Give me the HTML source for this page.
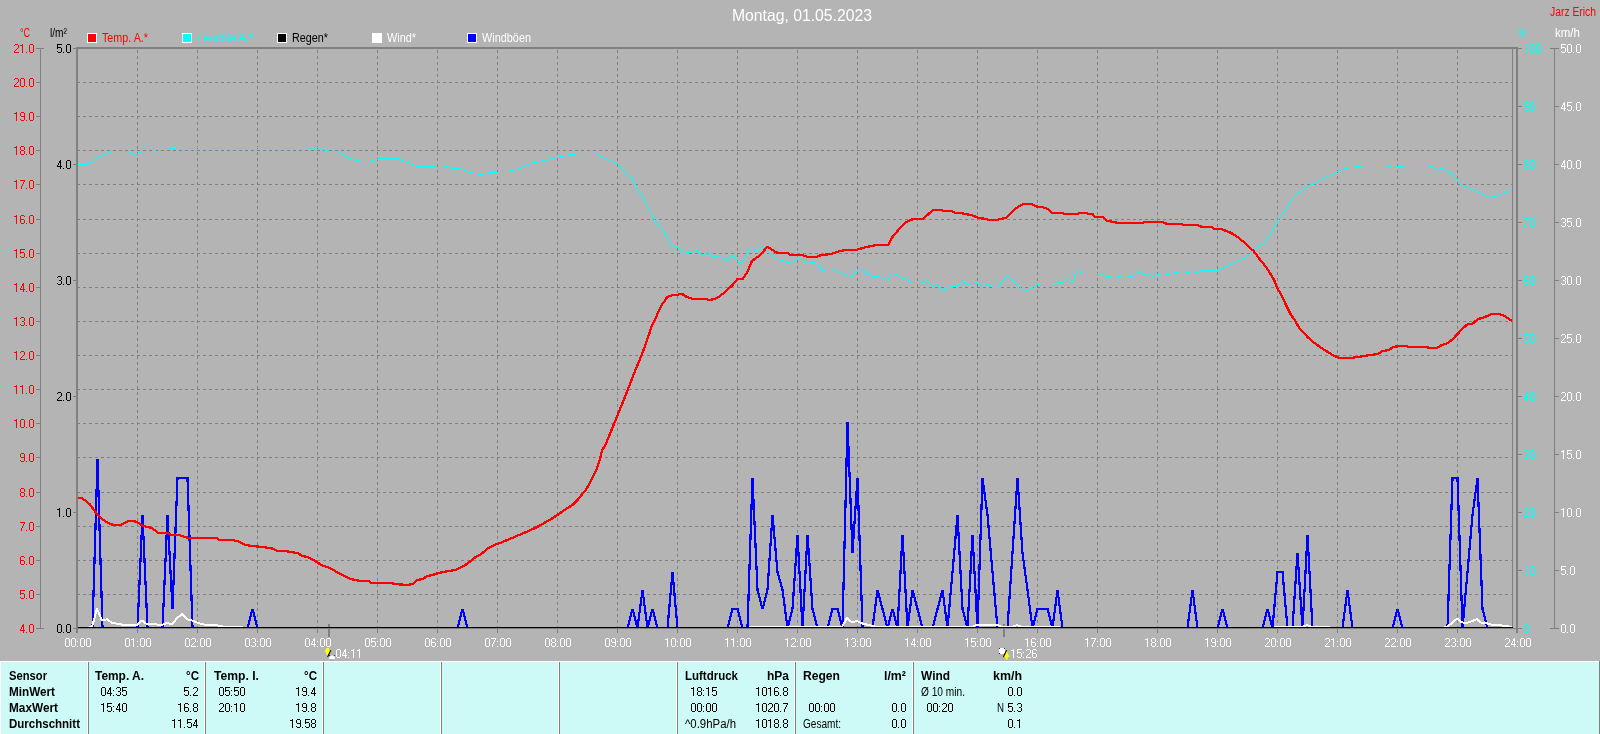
<!DOCTYPE html>
<html><head><meta charset="utf-8"><title>Montag, 01.05.2023</title>
<style>
html,body{margin:0;padding:0;background:#b4b4b4;overflow:hidden;}
svg{display:block;will-change:transform;}
text{font-family:"Liberation Sans", sans-serif;}
</style></head>
<body>
<svg width="1600" height="734" viewBox="0 0 1600 734">
<rect x="0" y="0" width="1600" height="734" fill="#b4b4b4"/>
<text x="732" y="21" fill="#ffffff" font-size="16.5" textLength="140" lengthAdjust="spacingAndGlyphs">Montag, 01.05.2023</text>
<text x="1550" y="16" fill="#ff0000" font-size="12" textLength="46" lengthAdjust="spacingAndGlyphs">Jarz Erich</text>
<rect x="87" y="33" width="10" height="10" fill="#ffffff"/>
<rect x="88" y="34" width="8" height="8" fill="#ff0000"/>
<text x="102" y="42" fill="#ff0000" font-size="12" textLength="46" lengthAdjust="spacingAndGlyphs">Temp. A.*</text>
<rect x="182" y="33" width="10" height="10" fill="#ffffff"/>
<rect x="183" y="34" width="8" height="8" fill="#00ffff"/>
<text x="197" y="42" fill="#00ffff" font-size="12" textLength="56" lengthAdjust="spacingAndGlyphs">Feuchte A.*</text>
<rect x="277" y="33" width="10" height="10" fill="#ffffff"/>
<rect x="278" y="34" width="8" height="8" fill="#000000"/>
<text x="292" y="42" fill="#000000" font-size="12" textLength="36" lengthAdjust="spacingAndGlyphs">Regen*</text>
<rect x="372" y="33" width="10" height="10" fill="#ffffff"/>
<rect x="373" y="34" width="8" height="8" fill="#ffffff"/>
<text x="387" y="42" fill="#ffffff" font-size="12" textLength="29" lengthAdjust="spacingAndGlyphs">Wind*</text>
<rect x="467" y="33" width="10" height="10" fill="#ffffff"/>
<rect x="468" y="34" width="8" height="8" fill="#0000ff"/>
<text x="482" y="42" fill="#ffffff" font-size="12" textLength="49" lengthAdjust="spacingAndGlyphs">Windböen</text>
<text x="20" y="37" fill="#ff0000" font-size="12" textLength="10" lengthAdjust="spacingAndGlyphs">°C</text>
<text x="50" y="37" fill="#000000" font-size="12" textLength="17" lengthAdjust="spacingAndGlyphs">l/m²</text>
<text x="1518" y="37" fill="#00ffff" font-size="12" textLength="8" lengthAdjust="spacingAndGlyphs">%</text>
<text x="1555" y="37" fill="#ffffff" font-size="12" textLength="25" lengthAdjust="spacingAndGlyphs">km/h</text>
<path d="M137.5 50V628 M197.5 50V628 M257.5 50V628 M317.5 50V628 M377.5 50V628 M437.5 50V628 M497.5 50V628 M557.5 50V628 M617.5 50V628 M677.5 50V628 M737.5 50V628 M797.5 50V628 M857.5 50V628 M917.5 50V628 M977.5 50V628 M1037.5 50V628 M1097.5 50V628 M1157.5 50V628 M1217.5 50V628 M1277.5 50V628 M1337.5 50V628 M1397.5 50V628 M1457.5 50V628 M77 82.5H1513 M77 116.5H1513 M77 150.5H1513 M77 184.5H1513 M77 219.5H1513 M77 253.5H1513 M77 287.5H1513 M77 321.5H1513 M77 355.5H1513 M77 389.5H1513 M77 423.5H1513 M77 457.5H1513 M77 492.5H1513 M77 526.5H1513 M77 560.5H1513 M77 594.5H1513" stroke="#808080" stroke-width="1" stroke-dasharray="3 3" fill="none" shape-rendering="crispEdges"/>
<rect x="40" y="48" width="1" height="581" fill="#808080"/>
<rect x="36" y="48" width="8" height="1" fill="#808080"/>
<rect x="36" y="82" width="4" height="1" fill="#808080"/>
<rect x="36" y="116" width="4" height="1" fill="#808080"/>
<rect x="36" y="150" width="4" height="1" fill="#808080"/>
<rect x="36" y="184" width="4" height="1" fill="#808080"/>
<rect x="36" y="219" width="4" height="1" fill="#808080"/>
<rect x="36" y="253" width="4" height="1" fill="#808080"/>
<rect x="36" y="287" width="4" height="1" fill="#808080"/>
<rect x="36" y="321" width="4" height="1" fill="#808080"/>
<rect x="36" y="355" width="4" height="1" fill="#808080"/>
<rect x="36" y="389" width="4" height="1" fill="#808080"/>
<rect x="36" y="423" width="4" height="1" fill="#808080"/>
<rect x="36" y="457" width="4" height="1" fill="#808080"/>
<rect x="36" y="492" width="4" height="1" fill="#808080"/>
<rect x="36" y="526" width="4" height="1" fill="#808080"/>
<rect x="36" y="560" width="4" height="1" fill="#808080"/>
<rect x="36" y="594" width="4" height="1" fill="#808080"/>
<rect x="36" y="628" width="8" height="1" fill="#808080"/>
<rect x="73" y="48" width="3" height="1" fill="#808080"/>
<rect x="73" y="164" width="3" height="1" fill="#808080"/>
<rect x="73" y="280" width="3" height="1" fill="#808080"/>
<rect x="73" y="396" width="3" height="1" fill="#808080"/>
<rect x="73" y="512" width="3" height="1" fill="#808080"/>
<rect x="73" y="628" width="3" height="1" fill="#808080"/>
<rect x="1554" y="48" width="1" height="581" fill="#808080"/>
<rect x="1518" y="48" width="4" height="1" fill="#808080"/>
<rect x="1550" y="48" width="9" height="1" fill="#808080"/>
<rect x="1518" y="106" width="4" height="1" fill="#808080"/>
<rect x="1555" y="106" width="4" height="1" fill="#808080"/>
<rect x="1518" y="164" width="4" height="1" fill="#808080"/>
<rect x="1555" y="164" width="4" height="1" fill="#808080"/>
<rect x="1518" y="222" width="4" height="1" fill="#808080"/>
<rect x="1555" y="222" width="4" height="1" fill="#808080"/>
<rect x="1518" y="280" width="4" height="1" fill="#808080"/>
<rect x="1555" y="280" width="4" height="1" fill="#808080"/>
<rect x="1518" y="338" width="4" height="1" fill="#808080"/>
<rect x="1555" y="338" width="4" height="1" fill="#808080"/>
<rect x="1518" y="396" width="4" height="1" fill="#808080"/>
<rect x="1555" y="396" width="4" height="1" fill="#808080"/>
<rect x="1518" y="454" width="4" height="1" fill="#808080"/>
<rect x="1555" y="454" width="4" height="1" fill="#808080"/>
<rect x="1518" y="512" width="4" height="1" fill="#808080"/>
<rect x="1555" y="512" width="4" height="1" fill="#808080"/>
<rect x="1518" y="570" width="4" height="1" fill="#808080"/>
<rect x="1555" y="570" width="4" height="1" fill="#808080"/>
<rect x="1518" y="628" width="4" height="1" fill="#808080"/>
<rect x="1550" y="628" width="9" height="1" fill="#808080"/>
<rect x="77" y="629" width="1" height="4" fill="#808080"/>
<rect x="137" y="629" width="1" height="4" fill="#808080"/>
<rect x="197" y="629" width="1" height="4" fill="#808080"/>
<rect x="257" y="629" width="1" height="4" fill="#808080"/>
<rect x="317" y="629" width="1" height="4" fill="#808080"/>
<rect x="377" y="629" width="1" height="4" fill="#808080"/>
<rect x="437" y="629" width="1" height="4" fill="#808080"/>
<rect x="497" y="629" width="1" height="4" fill="#808080"/>
<rect x="557" y="629" width="1" height="4" fill="#808080"/>
<rect x="617" y="629" width="1" height="4" fill="#808080"/>
<rect x="677" y="629" width="1" height="4" fill="#808080"/>
<rect x="737" y="629" width="1" height="4" fill="#808080"/>
<rect x="797" y="629" width="1" height="4" fill="#808080"/>
<rect x="857" y="629" width="1" height="4" fill="#808080"/>
<rect x="917" y="629" width="1" height="4" fill="#808080"/>
<rect x="977" y="629" width="1" height="4" fill="#808080"/>
<rect x="1037" y="629" width="1" height="4" fill="#808080"/>
<rect x="1097" y="629" width="1" height="4" fill="#808080"/>
<rect x="1157" y="629" width="1" height="4" fill="#808080"/>
<rect x="1217" y="629" width="1" height="4" fill="#808080"/>
<rect x="1277" y="629" width="1" height="4" fill="#808080"/>
<rect x="1337" y="629" width="1" height="4" fill="#808080"/>
<rect x="1397" y="629" width="1" height="4" fill="#808080"/>
<rect x="1457" y="629" width="1" height="4" fill="#808080"/>
<rect x="1517" y="629" width="1" height="4" fill="#808080"/>
<rect x="328" y="624" width="2" height="13" fill="#808080"/>
<rect x="1003" y="624" width="2" height="13" fill="#808080"/>
<polyline points="77.5,628 82.5,628 87.5,628 92.5,628 97.5,459 102.5,628 107.5,628 112.5,628 117.5,628 122.5,628 127.5,628 132.5,628 137.5,628 142.5,515 147.5,628 152.5,628 157.5,628 162.5,628 167.5,515 172.5,609 177.5,478 182.5,478 187.5,478 192.5,628 197.5,628 202.5,628 207.5,628 212.5,628 217.5,628 222.5,628 227.5,628 232.5,628 237.5,628 242.5,628 247.5,628 252.5,609 257.5,628 262.5,628 267.5,628 272.5,628 277.5,628 282.5,628 287.5,628 292.5,628 297.5,628 302.5,628 307.5,628 312.5,628 317.5,628 322.5,628 327.5,628 332.5,628 337.5,628 342.5,628 347.5,628 352.5,628 357.5,628 362.5,628 367.5,628 372.5,628 377.5,628 382.5,628 387.5,628 392.5,628 397.5,628 402.5,628 407.5,628 412.5,628 417.5,628 422.5,628 427.5,628 432.5,628 437.5,628 442.5,628 447.5,628 452.5,628 457.5,628 462.5,609 467.5,628 472.5,628 477.5,628 482.5,628 487.5,628 492.5,628 497.5,628 502.5,628 507.5,628 512.5,628 517.5,628 522.5,628 527.5,628 532.5,628 537.5,628 542.5,628 547.5,628 552.5,628 557.5,628 562.5,628 567.5,628 572.5,628 577.5,628 582.5,628 587.5,628 592.5,628 597.5,628 602.5,628 607.5,628 612.5,628 617.5,628 622.5,628 627.5,628 632.5,609 637.5,628 642.5,590 647.5,628 652.5,609 657.5,628 662.5,628 667.5,628 672.5,572 677.5,628 682.5,628 687.5,628 692.5,628 697.5,628 702.5,628 707.5,628 712.5,628 717.5,628 722.5,628 727.5,628 732.5,609 737.5,609 742.5,628 747.5,628 752.5,478 757.5,590 762.5,609 767.5,590 772.5,515 777.5,572 782.5,590 787.5,628 792.5,609 797.5,535 802.5,628 807.5,535 812.5,609 817.5,628 822.5,628 827.5,628 832.5,609 837.5,609 842.5,628 847.5,422 852.5,553 857.5,478 862.5,628 867.5,628 872.5,628 877.5,590 882.5,609 887.5,628 892.5,609 897.5,628 902.5,535 907.5,628 912.5,590 917.5,609 922.5,628 927.5,628 932.5,628 937.5,609 942.5,590 947.5,628 952.5,572 957.5,515 962.5,609 967.5,628 972.5,535 977.5,628 982.5,478 987.5,515 992.5,572 997.5,628 1002.5,628 1007.5,628 1012.5,553 1017.5,478 1022.5,553 1027.5,590 1032.5,628 1037.5,609 1042.5,609 1047.5,609 1052.5,628 1057.5,590 1062.5,628 1067.5,628 1072.5,628 1077.5,628 1082.5,628 1087.5,628 1092.5,628 1097.5,628 1102.5,628 1107.5,628 1112.5,628 1117.5,628 1122.5,628 1127.5,628 1132.5,628 1137.5,628 1142.5,628 1147.5,628 1152.5,628 1157.5,628 1162.5,628 1167.5,628 1172.5,628 1177.5,628 1182.5,628 1187.5,628 1192.5,590 1197.5,628 1202.5,628 1207.5,628 1212.5,628 1217.5,628 1222.5,609 1227.5,628 1232.5,628 1237.5,628 1242.5,628 1247.5,628 1252.5,628 1257.5,628 1262.5,628 1267.5,609 1272.5,628 1277.5,572 1282.5,572 1287.5,628 1292.5,628 1297.5,553 1302.5,628 1307.5,535 1312.5,628 1317.5,628 1322.5,628 1327.5,628 1332.5,628 1337.5,628 1342.5,628 1347.5,590 1352.5,628 1357.5,628 1362.5,628 1367.5,628 1372.5,628 1377.5,628 1382.5,628 1387.5,628 1392.5,628 1397.5,609 1402.5,628 1407.5,628 1412.5,628 1417.5,628 1422.5,628 1427.5,628 1432.5,628 1437.5,628 1442.5,628 1447.5,628 1452.5,478 1457.5,478 1462.5,628 1467.5,572 1472.5,515 1477.5,478 1482.5,609 1487.5,628 1492.5,628 1497.5,628 1502.5,628 1507.5,628 1512.5,628" fill="none" stroke="#0000ff" stroke-width="2.2" stroke-linejoin="miter" stroke-miterlimit="3" shape-rendering="crispEdges"/>
<polyline points="77,628 87,628 92,627 97,608.6 102,620.5 107,619.25 112,623 117,623.6 122,624.6 137,624.9 142,620.5 147,624.25 152,623.6 157,624.5 162,624.9 167,623 172,624.5 177,618 182,614.25 187,619.25 192,620.5 197,622.4 202,624.25 207,624.9 217,625.25 225,627 240,627 245,628 742,628 747,628 752,627 757,627 767,627 772,627 777,627 842,627 847,617.75 852,622.5 857,620.9 862,623.4 867,624.6 877,627 882,627 972,627 977,624.6 997,624.6 1002,627 1012,627 1017,625 1022,627 1057,627 1062,628 1272,628 1277,627 1302,627 1307,625 1312,627 1327,627 1332,628 1442,628 1447,627 1457,618.6 1462,622.4 1467,623 1477,619.25 1482,623.3 1487,623.3 1492,624.9 1500,625.2 1512,627" fill="none" stroke="#ffffff" stroke-width="2" stroke-linejoin="round" shape-rendering="crispEdges"/>
<rect x="77" y="627" width="1436" height="1" fill="#000000"/>
<polyline points="77.5,164.5 87.5,164.5 93.75,159.5 102.5,155.5 112.5,151.5 128.75,151.5 133.75,154.5 142.5,151.5 152.5,151.5 157.5,149.5 165,149.5 180,147.5 307.5,147.5 312.5,149.5 317.5,147.5 322.5,149.5 330,151.5 338.75,151.5 347.5,157.5 360,161.5 368.75,161.5 372.5,160.5 380,158.5 397.5,158.5 417.5,166.5 430,166.5 442.5,167.5 447.5,166.5 452.5,168.5 460,168.5 467.5,171.5 470,172.5 481,174.5 488.75,172.5 507.5,171.5 520,168.5 530,163.5 545,160.5 557.5,157.5 570,154.5 582.5,153.5 596,153.5 602.5,157.5 617.5,163.5 627.5,175.5 632.5,177.5 637.5,190.5 642.5,196.5 655,220.5 665,233.5 672.5,247.5 677.5,246.5 682.5,253.5 690,252.5 696.9,250.5 702.5,255.5 707.5,252.5 712.5,256.5 722.5,257.5 727.5,261.5 732.5,254.5 737.5,261.5 741.9,263.5 747.5,251.5 751.25,249.5 757.5,250.5 762.5,246.5 767.5,251.5 772.5,256.5 777.5,259.5 782.5,260.5 787.5,262.5 792.5,263.5 797.5,257.5 802.5,259.5 807.5,263.5 812.5,262.5 817.5,263.5 822.5,270.5 827.5,269.5 832.5,269.5 837.5,271.5 842.5,273.5 847.5,275.5 851.9,276.5 857.5,269.5 862.5,269.5 867.5,273.5 872.5,276.5 877.5,276.5 880,277.5 882.5,277.5 887.5,280.5 892.5,273.5 897.5,274.5 902.5,278.5 907.5,279.5 912.5,283.5 918.75,283.5 922.5,282.5 926.9,280.5 932.5,286.5 937.5,284.5 942.5,291.5 947.5,287.5 952.5,286.5 957.5,286.5 962.5,280.5 967.5,284.5 972.5,283.5 977.5,282.5 982.5,286.5 987.5,283.5 992.5,287.5 997.5,287.5 1002.5,281.5 1007.5,275.5 1012.5,280.5 1017.5,284.5 1022.5,289.5 1026.9,290.5 1032.5,287.5 1037.5,284.5 1042.5,285.5 1052.5,285.5 1057.5,282.5 1062.5,282.5 1067.5,277.5 1072.5,282.5 1077.5,270.5 1082.5,273.5 1097.5,273.5 1106.25,276.5 1115,275.5 1122.5,277.5 1132.5,276.5 1137.5,271.5 1143.75,274.5 1147.5,273.5 1152.5,276.5 1157.5,274.5 1162.5,275.5 1167.5,274.5 1176.25,272.5 1182.5,271.5 1187.5,272.5 1192.5,271.5 1197.5,272.5 1202.5,270.5 1217.5,270.5 1223.75,267.5 1231.25,264.5 1237.5,260.5 1243.75,258.5 1247.5,256.5 1252.5,251.5 1258.75,246.5 1263.75,243.5 1268.75,236.5 1272.5,231.5 1278.75,218.5 1285,210.5 1292.5,198.5 1300,191.5 1307.5,186.5 1315,183.5 1322.5,178.5 1330,175.5 1337.5,171.5 1345,168.5 1357.5,166.5 1367.5,165.5 1385,165.5 1392.5,167.5 1400,166.5 1407.5,165.5 1425,165.5 1432.5,166.5 1437.5,169.5 1442.5,168.5 1450,172.5 1457.5,180.5 1462.5,185.5 1470,188.5 1477.5,191.5 1485,195.5 1490,197.5 1495,196.5 1502.5,193.5 1511.5,190.5" fill="none" stroke="#00ffff" stroke-width="1" stroke-linejoin="round" shape-rendering="crispEdges"/>
<polyline points="77,498 82,498 85.75,501 89.5,504 93.25,509 97,514 102,519 108.25,523 113.25,525 120.75,525 124.5,523 128.25,521 133.9,521 138.25,523 143.25,526 152,528 158.25,533 167,533 172,535 179.5,535 184.5,537 189.5,538 217,538 219.5,540 232,540 237,541 245.75,545 252,546 262,547 270,548 273.75,549 277.5,551 286.25,551 290,552 297.5,553 302.5,556 307.5,557 313.75,560 321.25,565 330,568 335,571 342.5,575 350,579 356.25,580 360,581 368.75,581 371.25,583 391.25,583 395,584 407.5,585 412.5,584 417.5,580 422.5,579 427.5,576 432.5,575 438.75,573 443.75,572 448.75,571 455,570 460,568 465,565 467.1,564 474.2,558 481.3,554 488.3,548 494.5,545 502.5,542 509.6,539 516.7,536 523.8,533 530.9,530 537.1,527 544.1,523 551.2,519 557.4,515 564.5,510 572.5,505 577.5,500 585.6,490 590,483 596.25,470 600,459 601.9,451 606.25,443 609.5,435 616.8,417 621.7,405 627.7,390 630,384 633,376 636.7,367 639.7,360 642,354 644.6,347 646.9,340 649.5,333 651.7,326 654,322 656.2,317 658.1,312 660.4,308 662.6,303 664.9,301 667.1,297 669.7,296 673.5,295 677.2,295 680.2,294 682.5,294 684.7,296 690,298 692.5,299 706.25,299 708.75,300 715,299 720,296 726.25,291 732.5,285 737.5,279 742.5,279 746.9,273 751.9,261 756.25,258 761.25,254 766.9,247 770,248 775,252 778.75,253 787.5,253 790,255 802.5,255 807.5,257 816.25,257 821.25,255 831.25,254 840,251 846.25,250 856.25,250 862.5,248 871.25,246 877.5,245 888,245 892.5,237 900,228 905,223 910,220 913.75,219 923.1,219 926.25,216 933.1,210 941.9,210 943.75,211 951.9,211 955,213 961.25,213 965,214 971.25,215 978.75,218 986.25,219 988.75,220 996.9,220 1000,219 1006.25,218 1008.75,215 1015,209 1021.25,205 1023.75,204 1031.9,204 1035,206 1038.75,207 1042.5,207 1047.5,209 1052.5,213 1062.5,213 1063.75,214 1077.5,214 1078.75,213 1086.9,213 1088.75,214 1092.5,214 1095,217 1102.5,217 1107.5,221 1113.75,222 1118.75,223 1142.5,223 1143.75,222 1161.9,222 1167.5,224 1181.9,224 1183.75,225 1196.9,225 1202.5,227 1211.9,227 1213.75,229 1221.25,229 1226.25,231 1231.25,233 1237.5,237 1243.75,242 1248.75,247 1253.75,251 1258.75,258 1263.75,264 1268.75,271 1274.1,280 1276.7,287 1279,291 1282.4,297 1285,303 1288,309 1291,315 1294,319 1296.2,323 1300,329 1305.2,334 1307.5,337 1314.5,343 1321.6,348 1327.8,352 1332.5,355 1339.5,358 1351.25,358 1357.5,357 1363.75,356 1370,355 1377.8,354 1382.5,351 1388.75,350 1393.4,347 1399.7,346 1405.9,346 1409,347 1426.25,347 1429.4,348 1436.4,348 1441.9,345 1448.1,343 1452.8,339 1457.5,334 1462.2,329 1467.7,324 1472.3,324 1477.8,319 1482.5,318 1487.2,316 1491.9,314 1498.1,314 1502.8,315 1507.5,318 1512.2,321" fill="none" stroke="#ff0000" stroke-width="2.3" stroke-linejoin="round" shape-rendering="crispEdges"/>
<rect x="76" y="47" width="1442" height="2" fill="#808080"/>
<rect x="76" y="47" width="2" height="586" fill="#808080"/>
<rect x="1516" y="47" width="2" height="586" fill="#808080"/>
<rect x="77" y="628" width="1441" height="1" fill="#808080"/>
<rect x="1512" y="49" width="1" height="578" fill="#808080"/>
<path d="M329 659a3 3.6 0 0 1 6 0z" fill="#ffffff"/>
<rect x="329" y="655" width="1" height="1" fill="#2828a0"/><rect x="334" y="655" width="1" height="1" fill="#2828a0"/>
<path d="M326 648h3v2h1.6l-3.1 6.6l-3.1 -6.6h1.6z" fill="#ffff00"/>
<path d="M330.8 650.3L327.6 657" stroke="#000" stroke-width="1.1" fill="none"/>
<rect x="999" y="648" width="6" height="6" rx="1.6" fill="#ffffff"/>
<rect x="999" y="648" width="1" height="1" fill="#2828a0"/><rect x="1004" y="648" width="1" height="1" fill="#2828a0"/><rect x="999" y="653" width="1" height="1" fill="#2828a0"/>
<path d="M1006.5 650L1009.6 657H1007.6V659.5H1005.5V657H1003.4Z" fill="#ffff00"/>
<path d="M1006.6 650.2L1003.4 657" stroke="#000" stroke-width="1.1" fill="none"/>
<rect x="0" y="661" width="1600" height="73" fill="#cdfaf7"/>
<rect x="0" y="661" width="1599" height="1" fill="#ffffff"/>
<rect x="0" y="661" width="1" height="73" fill="#ffffff"/>
<rect x="1599" y="661" width="1" height="73" fill="#808080"/>
<rect x="87" y="662" width="1" height="72" fill="#ffffff"/>
<rect x="88" y="662" width="1" height="72" fill="#808080"/>
<rect x="204" y="662" width="1" height="72" fill="#ffffff"/>
<rect x="205" y="662" width="1" height="72" fill="#808080"/>
<rect x="322" y="662" width="1" height="72" fill="#ffffff"/>
<rect x="323" y="662" width="1" height="72" fill="#808080"/>
<rect x="440" y="662" width="1" height="72" fill="#ffffff"/>
<rect x="441" y="662" width="1" height="72" fill="#808080"/>
<rect x="558" y="662" width="1" height="72" fill="#ffffff"/>
<rect x="559" y="662" width="1" height="72" fill="#808080"/>
<rect x="676" y="662" width="1" height="72" fill="#ffffff"/>
<rect x="677" y="662" width="1" height="72" fill="#808080"/>
<rect x="794" y="662" width="1" height="72" fill="#ffffff"/>
<rect x="795" y="662" width="1" height="72" fill="#808080"/>
<rect x="912" y="662" width="1" height="72" fill="#ffffff"/>
<rect x="913" y="662" width="1" height="72" fill="#808080"/>
<text x="9" y="680" fill="#000000" font-size="12" textLength="38" lengthAdjust="spacingAndGlyphs" font-weight="bold">Sensor</text>
<text x="9" y="696" fill="#000000" font-size="12" textLength="46" lengthAdjust="spacingAndGlyphs" font-weight="bold">MinWert</text>
<text x="9" y="712" fill="#000000" font-size="12" textLength="49" lengthAdjust="spacingAndGlyphs" font-weight="bold">MaxWert</text>
<text x="9" y="728" fill="#000000" font-size="12" textLength="71" lengthAdjust="spacingAndGlyphs" font-weight="bold">Durchschnitt</text>
<text x="95" y="680" fill="#000000" font-size="12" textLength="49" lengthAdjust="spacingAndGlyphs" font-weight="bold">Temp. A.</text>
<text x="186" y="680" fill="#000000" font-size="12" textLength="13" lengthAdjust="spacingAndGlyphs" font-weight="bold">°C</text>
<text x="214" y="680" fill="#000000" font-size="12" textLength="45" lengthAdjust="spacingAndGlyphs" font-weight="bold">Temp. I.</text>
<text x="304" y="680" fill="#000000" font-size="12" textLength="13" lengthAdjust="spacingAndGlyphs" font-weight="bold">°C</text>
<text x="685" y="680" fill="#000000" font-size="12" textLength="53" lengthAdjust="spacingAndGlyphs" font-weight="bold">Luftdruck</text>
<text x="767" y="680" fill="#000000" font-size="12" textLength="22" lengthAdjust="spacingAndGlyphs" font-weight="bold">hPa</text>
<text x="685" y="728" fill="#000000" font-size="12" textLength="51" lengthAdjust="spacingAndGlyphs">^0.9hPa/h</text>
<text x="803" y="680" fill="#000000" font-size="12" textLength="37" lengthAdjust="spacingAndGlyphs" font-weight="bold">Regen</text>
<text x="884" y="680" fill="#000000" font-size="12" textLength="22" lengthAdjust="spacingAndGlyphs" font-weight="bold">l/m²</text>
<text x="803" y="728" fill="#000000" font-size="12" textLength="38" lengthAdjust="spacingAndGlyphs">Gesamt:</text>
<text x="921" y="680" fill="#000000" font-size="12" textLength="29" lengthAdjust="spacingAndGlyphs" font-weight="bold">Wind</text>
<text x="993" y="680" fill="#000000" font-size="12" textLength="29" lengthAdjust="spacingAndGlyphs" font-weight="bold">km/h</text>
<text x="921" y="696" fill="#000000" font-size="12" textLength="44" lengthAdjust="spacingAndGlyphs">Ø 10 min.</text>
<text x="997" y="712" fill="#000000" font-size="12" textLength="7" lengthAdjust="spacingAndGlyphs">N</text>
<path d="M15 44h3v1h-3zM14 45h1v1h-1zM18 45h1v1h-1zM18 46h1v1h-1zM18 47h1v1h-1zM17 48h1v1h-1zM16 49h1v1h-1zM15 50h1v1h-1zM14 51h1v1h-1zM14 52h5v1h-5zM22 44h1v1h-1zM20 45h3v1h-3zM22 46h1v1h-1zM22 47h1v1h-1zM22 48h1v1h-1zM22 49h1v1h-1zM22 50h1v1h-1zM22 51h1v1h-1zM22 52h1v1h-1zM26 52h1v1h-1zM30 44h3v1h-3zM29 45h1v1h-1zM33 45h1v1h-1zM29 46h1v1h-1zM33 46h1v1h-1zM29 47h1v1h-1zM33 47h1v1h-1zM29 48h1v1h-1zM33 48h1v1h-1zM29 49h1v1h-1zM33 49h1v1h-1zM29 50h1v1h-1zM33 50h1v1h-1zM29 51h1v1h-1zM33 51h1v1h-1zM30 52h3v1h-3zM15 78h3v1h-3zM14 79h1v1h-1zM18 79h1v1h-1zM18 80h1v1h-1zM18 81h1v1h-1zM17 82h1v1h-1zM16 83h1v1h-1zM15 84h1v1h-1zM14 85h1v1h-1zM14 86h5v1h-5zM21 78h3v1h-3zM20 79h1v1h-1zM24 79h1v1h-1zM20 80h1v1h-1zM24 80h1v1h-1zM20 81h1v1h-1zM24 81h1v1h-1zM20 82h1v1h-1zM24 82h1v1h-1zM20 83h1v1h-1zM24 83h1v1h-1zM20 84h1v1h-1zM24 84h1v1h-1zM20 85h1v1h-1zM24 85h1v1h-1zM21 86h3v1h-3zM26 86h1v1h-1zM30 78h3v1h-3zM29 79h1v1h-1zM33 79h1v1h-1zM29 80h1v1h-1zM33 80h1v1h-1zM29 81h1v1h-1zM33 81h1v1h-1zM29 82h1v1h-1zM33 82h1v1h-1zM29 83h1v1h-1zM33 83h1v1h-1zM29 84h1v1h-1zM33 84h1v1h-1zM29 85h1v1h-1zM33 85h1v1h-1zM30 86h3v1h-3zM16 112h1v1h-1zM14 113h3v1h-3zM16 114h1v1h-1zM16 115h1v1h-1zM16 116h1v1h-1zM16 117h1v1h-1zM16 118h1v1h-1zM16 119h1v1h-1zM16 120h1v1h-1zM21 112h3v1h-3zM20 113h1v1h-1zM24 113h1v1h-1zM20 114h1v1h-1zM24 114h1v1h-1zM20 115h1v1h-1zM24 115h1v1h-1zM21 116h4v1h-4zM24 117h1v1h-1zM24 118h1v1h-1zM20 119h1v1h-1zM24 119h1v1h-1zM21 120h3v1h-3zM26 120h1v1h-1zM30 112h3v1h-3zM29 113h1v1h-1zM33 113h1v1h-1zM29 114h1v1h-1zM33 114h1v1h-1zM29 115h1v1h-1zM33 115h1v1h-1zM29 116h1v1h-1zM33 116h1v1h-1zM29 117h1v1h-1zM33 117h1v1h-1zM29 118h1v1h-1zM33 118h1v1h-1zM29 119h1v1h-1zM33 119h1v1h-1zM30 120h3v1h-3zM16 146h1v1h-1zM14 147h3v1h-3zM16 148h1v1h-1zM16 149h1v1h-1zM16 150h1v1h-1zM16 151h1v1h-1zM16 152h1v1h-1zM16 153h1v1h-1zM16 154h1v1h-1zM21 146h3v1h-3zM20 147h1v1h-1zM24 147h1v1h-1zM20 148h1v1h-1zM24 148h1v1h-1zM20 149h1v1h-1zM24 149h1v1h-1zM21 150h3v1h-3zM20 151h1v1h-1zM24 151h1v1h-1zM20 152h1v1h-1zM24 152h1v1h-1zM20 153h1v1h-1zM24 153h1v1h-1zM21 154h3v1h-3zM26 154h1v1h-1zM30 146h3v1h-3zM29 147h1v1h-1zM33 147h1v1h-1zM29 148h1v1h-1zM33 148h1v1h-1zM29 149h1v1h-1zM33 149h1v1h-1zM29 150h1v1h-1zM33 150h1v1h-1zM29 151h1v1h-1zM33 151h1v1h-1zM29 152h1v1h-1zM33 152h1v1h-1zM29 153h1v1h-1zM33 153h1v1h-1zM30 154h3v1h-3zM16 180h1v1h-1zM14 181h3v1h-3zM16 182h1v1h-1zM16 183h1v1h-1zM16 184h1v1h-1zM16 185h1v1h-1zM16 186h1v1h-1zM16 187h1v1h-1zM16 188h1v1h-1zM20 180h5v1h-5zM24 181h1v1h-1zM23 182h1v1h-1zM23 183h1v1h-1zM22 184h1v1h-1zM22 185h1v1h-1zM21 186h1v1h-1zM21 187h1v1h-1zM21 188h1v1h-1zM26 188h1v1h-1zM30 180h3v1h-3zM29 181h1v1h-1zM33 181h1v1h-1zM29 182h1v1h-1zM33 182h1v1h-1zM29 183h1v1h-1zM33 183h1v1h-1zM29 184h1v1h-1zM33 184h1v1h-1zM29 185h1v1h-1zM33 185h1v1h-1zM29 186h1v1h-1zM33 186h1v1h-1zM29 187h1v1h-1zM33 187h1v1h-1zM30 188h3v1h-3zM16 215h1v1h-1zM14 216h3v1h-3zM16 217h1v1h-1zM16 218h1v1h-1zM16 219h1v1h-1zM16 220h1v1h-1zM16 221h1v1h-1zM16 222h1v1h-1zM16 223h1v1h-1zM21 215h3v1h-3zM20 216h1v1h-1zM24 216h1v1h-1zM20 217h1v1h-1zM20 218h1v1h-1zM20 219h4v1h-4zM20 220h1v1h-1zM24 220h1v1h-1zM20 221h1v1h-1zM24 221h1v1h-1zM20 222h1v1h-1zM24 222h1v1h-1zM21 223h3v1h-3zM26 223h1v1h-1zM30 215h3v1h-3zM29 216h1v1h-1zM33 216h1v1h-1zM29 217h1v1h-1zM33 217h1v1h-1zM29 218h1v1h-1zM33 218h1v1h-1zM29 219h1v1h-1zM33 219h1v1h-1zM29 220h1v1h-1zM33 220h1v1h-1zM29 221h1v1h-1zM33 221h1v1h-1zM29 222h1v1h-1zM33 222h1v1h-1zM30 223h3v1h-3zM16 249h1v1h-1zM14 250h3v1h-3zM16 251h1v1h-1zM16 252h1v1h-1zM16 253h1v1h-1zM16 254h1v1h-1zM16 255h1v1h-1zM16 256h1v1h-1zM16 257h1v1h-1zM20 249h5v1h-5zM20 250h1v1h-1zM20 251h1v1h-1zM20 252h4v1h-4zM20 253h1v1h-1zM24 253h1v1h-1zM24 254h1v1h-1zM24 255h1v1h-1zM20 256h1v1h-1zM24 256h1v1h-1zM21 257h3v1h-3zM26 257h1v1h-1zM30 249h3v1h-3zM29 250h1v1h-1zM33 250h1v1h-1zM29 251h1v1h-1zM33 251h1v1h-1zM29 252h1v1h-1zM33 252h1v1h-1zM29 253h1v1h-1zM33 253h1v1h-1zM29 254h1v1h-1zM33 254h1v1h-1zM29 255h1v1h-1zM33 255h1v1h-1zM29 256h1v1h-1zM33 256h1v1h-1zM30 257h3v1h-3zM16 283h1v1h-1zM14 284h3v1h-3zM16 285h1v1h-1zM16 286h1v1h-1zM16 287h1v1h-1zM16 288h1v1h-1zM16 289h1v1h-1zM16 290h1v1h-1zM16 291h1v1h-1zM23 283h1v1h-1zM22 284h2v1h-2zM22 285h2v1h-2zM21 286h1v1h-1zM23 286h1v1h-1zM21 287h1v1h-1zM23 287h1v1h-1zM20 288h1v1h-1zM23 288h1v1h-1zM20 289h5v1h-5zM23 290h1v1h-1zM23 291h1v1h-1zM26 291h1v1h-1zM30 283h3v1h-3zM29 284h1v1h-1zM33 284h1v1h-1zM29 285h1v1h-1zM33 285h1v1h-1zM29 286h1v1h-1zM33 286h1v1h-1zM29 287h1v1h-1zM33 287h1v1h-1zM29 288h1v1h-1zM33 288h1v1h-1zM29 289h1v1h-1zM33 289h1v1h-1zM29 290h1v1h-1zM33 290h1v1h-1zM30 291h3v1h-3zM16 317h1v1h-1zM14 318h3v1h-3zM16 319h1v1h-1zM16 320h1v1h-1zM16 321h1v1h-1zM16 322h1v1h-1zM16 323h1v1h-1zM16 324h1v1h-1zM16 325h1v1h-1zM21 317h3v1h-3zM20 318h1v1h-1zM24 318h1v1h-1zM24 319h1v1h-1zM24 320h1v1h-1zM22 321h2v1h-2zM24 322h1v1h-1zM24 323h1v1h-1zM20 324h1v1h-1zM24 324h1v1h-1zM21 325h3v1h-3zM26 325h1v1h-1zM30 317h3v1h-3zM29 318h1v1h-1zM33 318h1v1h-1zM29 319h1v1h-1zM33 319h1v1h-1zM29 320h1v1h-1zM33 320h1v1h-1zM29 321h1v1h-1zM33 321h1v1h-1zM29 322h1v1h-1zM33 322h1v1h-1zM29 323h1v1h-1zM33 323h1v1h-1zM29 324h1v1h-1zM33 324h1v1h-1zM30 325h3v1h-3zM16 351h1v1h-1zM14 352h3v1h-3zM16 353h1v1h-1zM16 354h1v1h-1zM16 355h1v1h-1zM16 356h1v1h-1zM16 357h1v1h-1zM16 358h1v1h-1zM16 359h1v1h-1zM21 351h3v1h-3zM20 352h1v1h-1zM24 352h1v1h-1zM24 353h1v1h-1zM24 354h1v1h-1zM23 355h1v1h-1zM22 356h1v1h-1zM21 357h1v1h-1zM20 358h1v1h-1zM20 359h5v1h-5zM26 359h1v1h-1zM30 351h3v1h-3zM29 352h1v1h-1zM33 352h1v1h-1zM29 353h1v1h-1zM33 353h1v1h-1zM29 354h1v1h-1zM33 354h1v1h-1zM29 355h1v1h-1zM33 355h1v1h-1zM29 356h1v1h-1zM33 356h1v1h-1zM29 357h1v1h-1zM33 357h1v1h-1zM29 358h1v1h-1zM33 358h1v1h-1zM30 359h3v1h-3zM16 385h1v1h-1zM14 386h3v1h-3zM16 387h1v1h-1zM16 388h1v1h-1zM16 389h1v1h-1zM16 390h1v1h-1zM16 391h1v1h-1zM16 392h1v1h-1zM16 393h1v1h-1zM22 385h1v1h-1zM20 386h3v1h-3zM22 387h1v1h-1zM22 388h1v1h-1zM22 389h1v1h-1zM22 390h1v1h-1zM22 391h1v1h-1zM22 392h1v1h-1zM22 393h1v1h-1zM26 393h1v1h-1zM30 385h3v1h-3zM29 386h1v1h-1zM33 386h1v1h-1zM29 387h1v1h-1zM33 387h1v1h-1zM29 388h1v1h-1zM33 388h1v1h-1zM29 389h1v1h-1zM33 389h1v1h-1zM29 390h1v1h-1zM33 390h1v1h-1zM29 391h1v1h-1zM33 391h1v1h-1zM29 392h1v1h-1zM33 392h1v1h-1zM30 393h3v1h-3zM16 419h1v1h-1zM14 420h3v1h-3zM16 421h1v1h-1zM16 422h1v1h-1zM16 423h1v1h-1zM16 424h1v1h-1zM16 425h1v1h-1zM16 426h1v1h-1zM16 427h1v1h-1zM21 419h3v1h-3zM20 420h1v1h-1zM24 420h1v1h-1zM20 421h1v1h-1zM24 421h1v1h-1zM20 422h1v1h-1zM24 422h1v1h-1zM20 423h1v1h-1zM24 423h1v1h-1zM20 424h1v1h-1zM24 424h1v1h-1zM20 425h1v1h-1zM24 425h1v1h-1zM20 426h1v1h-1zM24 426h1v1h-1zM21 427h3v1h-3zM26 427h1v1h-1zM30 419h3v1h-3zM29 420h1v1h-1zM33 420h1v1h-1zM29 421h1v1h-1zM33 421h1v1h-1zM29 422h1v1h-1zM33 422h1v1h-1zM29 423h1v1h-1zM33 423h1v1h-1zM29 424h1v1h-1zM33 424h1v1h-1zM29 425h1v1h-1zM33 425h1v1h-1zM29 426h1v1h-1zM33 426h1v1h-1zM30 427h3v1h-3zM21 453h3v1h-3zM20 454h1v1h-1zM24 454h1v1h-1zM20 455h1v1h-1zM24 455h1v1h-1zM20 456h1v1h-1zM24 456h1v1h-1zM21 457h4v1h-4zM24 458h1v1h-1zM24 459h1v1h-1zM20 460h1v1h-1zM24 460h1v1h-1zM21 461h3v1h-3zM26 461h1v1h-1zM30 453h3v1h-3zM29 454h1v1h-1zM33 454h1v1h-1zM29 455h1v1h-1zM33 455h1v1h-1zM29 456h1v1h-1zM33 456h1v1h-1zM29 457h1v1h-1zM33 457h1v1h-1zM29 458h1v1h-1zM33 458h1v1h-1zM29 459h1v1h-1zM33 459h1v1h-1zM29 460h1v1h-1zM33 460h1v1h-1zM30 461h3v1h-3zM21 488h3v1h-3zM20 489h1v1h-1zM24 489h1v1h-1zM20 490h1v1h-1zM24 490h1v1h-1zM20 491h1v1h-1zM24 491h1v1h-1zM21 492h3v1h-3zM20 493h1v1h-1zM24 493h1v1h-1zM20 494h1v1h-1zM24 494h1v1h-1zM20 495h1v1h-1zM24 495h1v1h-1zM21 496h3v1h-3zM26 496h1v1h-1zM30 488h3v1h-3zM29 489h1v1h-1zM33 489h1v1h-1zM29 490h1v1h-1zM33 490h1v1h-1zM29 491h1v1h-1zM33 491h1v1h-1zM29 492h1v1h-1zM33 492h1v1h-1zM29 493h1v1h-1zM33 493h1v1h-1zM29 494h1v1h-1zM33 494h1v1h-1zM29 495h1v1h-1zM33 495h1v1h-1zM30 496h3v1h-3zM20 522h5v1h-5zM24 523h1v1h-1zM23 524h1v1h-1zM23 525h1v1h-1zM22 526h1v1h-1zM22 527h1v1h-1zM21 528h1v1h-1zM21 529h1v1h-1zM21 530h1v1h-1zM26 530h1v1h-1zM30 522h3v1h-3zM29 523h1v1h-1zM33 523h1v1h-1zM29 524h1v1h-1zM33 524h1v1h-1zM29 525h1v1h-1zM33 525h1v1h-1zM29 526h1v1h-1zM33 526h1v1h-1zM29 527h1v1h-1zM33 527h1v1h-1zM29 528h1v1h-1zM33 528h1v1h-1zM29 529h1v1h-1zM33 529h1v1h-1zM30 530h3v1h-3zM21 556h3v1h-3zM20 557h1v1h-1zM24 557h1v1h-1zM20 558h1v1h-1zM20 559h1v1h-1zM20 560h4v1h-4zM20 561h1v1h-1zM24 561h1v1h-1zM20 562h1v1h-1zM24 562h1v1h-1zM20 563h1v1h-1zM24 563h1v1h-1zM21 564h3v1h-3zM26 564h1v1h-1zM30 556h3v1h-3zM29 557h1v1h-1zM33 557h1v1h-1zM29 558h1v1h-1zM33 558h1v1h-1zM29 559h1v1h-1zM33 559h1v1h-1zM29 560h1v1h-1zM33 560h1v1h-1zM29 561h1v1h-1zM33 561h1v1h-1zM29 562h1v1h-1zM33 562h1v1h-1zM29 563h1v1h-1zM33 563h1v1h-1zM30 564h3v1h-3zM20 590h5v1h-5zM20 591h1v1h-1zM20 592h1v1h-1zM20 593h4v1h-4zM20 594h1v1h-1zM24 594h1v1h-1zM24 595h1v1h-1zM24 596h1v1h-1zM20 597h1v1h-1zM24 597h1v1h-1zM21 598h3v1h-3zM26 598h1v1h-1zM30 590h3v1h-3zM29 591h1v1h-1zM33 591h1v1h-1zM29 592h1v1h-1zM33 592h1v1h-1zM29 593h1v1h-1zM33 593h1v1h-1zM29 594h1v1h-1zM33 594h1v1h-1zM29 595h1v1h-1zM33 595h1v1h-1zM29 596h1v1h-1zM33 596h1v1h-1zM29 597h1v1h-1zM33 597h1v1h-1zM30 598h3v1h-3zM23 624h1v1h-1zM22 625h2v1h-2zM22 626h2v1h-2zM21 627h1v1h-1zM23 627h1v1h-1zM21 628h1v1h-1zM23 628h1v1h-1zM20 629h1v1h-1zM23 629h1v1h-1zM20 630h5v1h-5zM23 631h1v1h-1zM23 632h1v1h-1zM26 632h1v1h-1zM30 624h3v1h-3zM29 625h1v1h-1zM33 625h1v1h-1zM29 626h1v1h-1zM33 626h1v1h-1zM29 627h1v1h-1zM33 627h1v1h-1zM29 628h1v1h-1zM33 628h1v1h-1zM29 629h1v1h-1zM33 629h1v1h-1zM29 630h1v1h-1zM33 630h1v1h-1zM29 631h1v1h-1zM33 631h1v1h-1zM30 632h3v1h-3z" fill="#ff0000" shape-rendering="crispEdges"/>
<path d="M57 44h5v1h-5zM57 45h1v1h-1zM57 46h1v1h-1zM57 47h4v1h-4zM57 48h1v1h-1zM61 48h1v1h-1zM61 49h1v1h-1zM61 50h1v1h-1zM57 51h1v1h-1zM61 51h1v1h-1zM58 52h3v1h-3zM63 52h1v1h-1zM67 44h3v1h-3zM66 45h1v1h-1zM70 45h1v1h-1zM66 46h1v1h-1zM70 46h1v1h-1zM66 47h1v1h-1zM70 47h1v1h-1zM66 48h1v1h-1zM70 48h1v1h-1zM66 49h1v1h-1zM70 49h1v1h-1zM66 50h1v1h-1zM70 50h1v1h-1zM66 51h1v1h-1zM70 51h1v1h-1zM67 52h3v1h-3zM60 160h1v1h-1zM59 161h2v1h-2zM59 162h2v1h-2zM58 163h1v1h-1zM60 163h1v1h-1zM58 164h1v1h-1zM60 164h1v1h-1zM57 165h1v1h-1zM60 165h1v1h-1zM57 166h5v1h-5zM60 167h1v1h-1zM60 168h1v1h-1zM63 168h1v1h-1zM67 160h3v1h-3zM66 161h1v1h-1zM70 161h1v1h-1zM66 162h1v1h-1zM70 162h1v1h-1zM66 163h1v1h-1zM70 163h1v1h-1zM66 164h1v1h-1zM70 164h1v1h-1zM66 165h1v1h-1zM70 165h1v1h-1zM66 166h1v1h-1zM70 166h1v1h-1zM66 167h1v1h-1zM70 167h1v1h-1zM67 168h3v1h-3zM58 276h3v1h-3zM57 277h1v1h-1zM61 277h1v1h-1zM61 278h1v1h-1zM61 279h1v1h-1zM59 280h2v1h-2zM61 281h1v1h-1zM61 282h1v1h-1zM57 283h1v1h-1zM61 283h1v1h-1zM58 284h3v1h-3zM63 284h1v1h-1zM67 276h3v1h-3zM66 277h1v1h-1zM70 277h1v1h-1zM66 278h1v1h-1zM70 278h1v1h-1zM66 279h1v1h-1zM70 279h1v1h-1zM66 280h1v1h-1zM70 280h1v1h-1zM66 281h1v1h-1zM70 281h1v1h-1zM66 282h1v1h-1zM70 282h1v1h-1zM66 283h1v1h-1zM70 283h1v1h-1zM67 284h3v1h-3zM58 392h3v1h-3zM57 393h1v1h-1zM61 393h1v1h-1zM61 394h1v1h-1zM61 395h1v1h-1zM60 396h1v1h-1zM59 397h1v1h-1zM58 398h1v1h-1zM57 399h1v1h-1zM57 400h5v1h-5zM63 400h1v1h-1zM67 392h3v1h-3zM66 393h1v1h-1zM70 393h1v1h-1zM66 394h1v1h-1zM70 394h1v1h-1zM66 395h1v1h-1zM70 395h1v1h-1zM66 396h1v1h-1zM70 396h1v1h-1zM66 397h1v1h-1zM70 397h1v1h-1zM66 398h1v1h-1zM70 398h1v1h-1zM66 399h1v1h-1zM70 399h1v1h-1zM67 400h3v1h-3zM59 508h1v1h-1zM57 509h3v1h-3zM59 510h1v1h-1zM59 511h1v1h-1zM59 512h1v1h-1zM59 513h1v1h-1zM59 514h1v1h-1zM59 515h1v1h-1zM59 516h1v1h-1zM63 516h1v1h-1zM67 508h3v1h-3zM66 509h1v1h-1zM70 509h1v1h-1zM66 510h1v1h-1zM70 510h1v1h-1zM66 511h1v1h-1zM70 511h1v1h-1zM66 512h1v1h-1zM70 512h1v1h-1zM66 513h1v1h-1zM70 513h1v1h-1zM66 514h1v1h-1zM70 514h1v1h-1zM66 515h1v1h-1zM70 515h1v1h-1zM67 516h3v1h-3zM58 624h3v1h-3zM57 625h1v1h-1zM61 625h1v1h-1zM57 626h1v1h-1zM61 626h1v1h-1zM57 627h1v1h-1zM61 627h1v1h-1zM57 628h1v1h-1zM61 628h1v1h-1zM57 629h1v1h-1zM61 629h1v1h-1zM57 630h1v1h-1zM61 630h1v1h-1zM57 631h1v1h-1zM61 631h1v1h-1zM58 632h3v1h-3zM63 632h1v1h-1zM67 624h3v1h-3zM66 625h1v1h-1zM70 625h1v1h-1zM66 626h1v1h-1zM70 626h1v1h-1zM66 627h1v1h-1zM70 627h1v1h-1zM66 628h1v1h-1zM70 628h1v1h-1zM66 629h1v1h-1zM70 629h1v1h-1zM66 630h1v1h-1zM70 630h1v1h-1zM66 631h1v1h-1zM70 631h1v1h-1zM67 632h3v1h-3zM102 687h3v1h-3zM101 688h1v1h-1zM105 688h1v1h-1zM101 689h1v1h-1zM105 689h1v1h-1zM101 690h1v1h-1zM105 690h1v1h-1zM101 691h1v1h-1zM105 691h1v1h-1zM101 692h1v1h-1zM105 692h1v1h-1zM101 693h1v1h-1zM105 693h1v1h-1zM101 694h1v1h-1zM105 694h1v1h-1zM102 695h3v1h-3zM110 687h1v1h-1zM109 688h2v1h-2zM109 689h2v1h-2zM108 690h1v1h-1zM110 690h1v1h-1zM108 691h1v1h-1zM110 691h1v1h-1zM107 692h1v1h-1zM110 692h1v1h-1zM107 693h5v1h-5zM110 694h1v1h-1zM110 695h1v1h-1zM113 690h1v1h-1zM113 695h1v1h-1zM117 687h3v1h-3zM116 688h1v1h-1zM120 688h1v1h-1zM120 689h1v1h-1zM120 690h1v1h-1zM118 691h2v1h-2zM120 692h1v1h-1zM120 693h1v1h-1zM116 694h1v1h-1zM120 694h1v1h-1zM117 695h3v1h-3zM122 687h5v1h-5zM122 688h1v1h-1zM122 689h1v1h-1zM122 690h4v1h-4zM122 691h1v1h-1zM126 691h1v1h-1zM126 692h1v1h-1zM126 693h1v1h-1zM122 694h1v1h-1zM126 694h1v1h-1zM123 695h3v1h-3zM184 687h5v1h-5zM184 688h1v1h-1zM184 689h1v1h-1zM184 690h4v1h-4zM184 691h1v1h-1zM188 691h1v1h-1zM188 692h1v1h-1zM188 693h1v1h-1zM184 694h1v1h-1zM188 694h1v1h-1zM185 695h3v1h-3zM190 695h1v1h-1zM194 687h3v1h-3zM193 688h1v1h-1zM197 688h1v1h-1zM197 689h1v1h-1zM197 690h1v1h-1zM196 691h1v1h-1zM195 692h1v1h-1zM194 693h1v1h-1zM193 694h1v1h-1zM193 695h5v1h-5zM103 703h1v1h-1zM101 704h3v1h-3zM103 705h1v1h-1zM103 706h1v1h-1zM103 707h1v1h-1zM103 708h1v1h-1zM103 709h1v1h-1zM103 710h1v1h-1zM103 711h1v1h-1zM107 703h5v1h-5zM107 704h1v1h-1zM107 705h1v1h-1zM107 706h4v1h-4zM107 707h1v1h-1zM111 707h1v1h-1zM111 708h1v1h-1zM111 709h1v1h-1zM107 710h1v1h-1zM111 710h1v1h-1zM108 711h3v1h-3zM113 706h1v1h-1zM113 711h1v1h-1zM119 703h1v1h-1zM118 704h2v1h-2zM118 705h2v1h-2zM117 706h1v1h-1zM119 706h1v1h-1zM117 707h1v1h-1zM119 707h1v1h-1zM116 708h1v1h-1zM119 708h1v1h-1zM116 709h5v1h-5zM119 710h1v1h-1zM119 711h1v1h-1zM123 703h3v1h-3zM122 704h1v1h-1zM126 704h1v1h-1zM122 705h1v1h-1zM126 705h1v1h-1zM122 706h1v1h-1zM126 706h1v1h-1zM122 707h1v1h-1zM126 707h1v1h-1zM122 708h1v1h-1zM126 708h1v1h-1zM122 709h1v1h-1zM126 709h1v1h-1zM122 710h1v1h-1zM126 710h1v1h-1zM123 711h3v1h-3zM180 703h1v1h-1zM178 704h3v1h-3zM180 705h1v1h-1zM180 706h1v1h-1zM180 707h1v1h-1zM180 708h1v1h-1zM180 709h1v1h-1zM180 710h1v1h-1zM180 711h1v1h-1zM185 703h3v1h-3zM184 704h1v1h-1zM188 704h1v1h-1zM184 705h1v1h-1zM184 706h1v1h-1zM184 707h4v1h-4zM184 708h1v1h-1zM188 708h1v1h-1zM184 709h1v1h-1zM188 709h1v1h-1zM184 710h1v1h-1zM188 710h1v1h-1zM185 711h3v1h-3zM190 711h1v1h-1zM194 703h3v1h-3zM193 704h1v1h-1zM197 704h1v1h-1zM193 705h1v1h-1zM197 705h1v1h-1zM193 706h1v1h-1zM197 706h1v1h-1zM194 707h3v1h-3zM193 708h1v1h-1zM197 708h1v1h-1zM193 709h1v1h-1zM197 709h1v1h-1zM193 710h1v1h-1zM197 710h1v1h-1zM194 711h3v1h-3zM174 719h1v1h-1zM172 720h3v1h-3zM174 721h1v1h-1zM174 722h1v1h-1zM174 723h1v1h-1zM174 724h1v1h-1zM174 725h1v1h-1zM174 726h1v1h-1zM174 727h1v1h-1zM180 719h1v1h-1zM178 720h3v1h-3zM180 721h1v1h-1zM180 722h1v1h-1zM180 723h1v1h-1zM180 724h1v1h-1zM180 725h1v1h-1zM180 726h1v1h-1zM180 727h1v1h-1zM184 727h1v1h-1zM187 719h5v1h-5zM187 720h1v1h-1zM187 721h1v1h-1zM187 722h4v1h-4zM187 723h1v1h-1zM191 723h1v1h-1zM191 724h1v1h-1zM191 725h1v1h-1zM187 726h1v1h-1zM191 726h1v1h-1zM188 727h3v1h-3zM196 719h1v1h-1zM195 720h2v1h-2zM195 721h2v1h-2zM194 722h1v1h-1zM196 722h1v1h-1zM194 723h1v1h-1zM196 723h1v1h-1zM193 724h1v1h-1zM196 724h1v1h-1zM193 725h5v1h-5zM196 726h1v1h-1zM196 727h1v1h-1zM220 687h3v1h-3zM219 688h1v1h-1zM223 688h1v1h-1zM219 689h1v1h-1zM223 689h1v1h-1zM219 690h1v1h-1zM223 690h1v1h-1zM219 691h1v1h-1zM223 691h1v1h-1zM219 692h1v1h-1zM223 692h1v1h-1zM219 693h1v1h-1zM223 693h1v1h-1zM219 694h1v1h-1zM223 694h1v1h-1zM220 695h3v1h-3zM225 687h5v1h-5zM225 688h1v1h-1zM225 689h1v1h-1zM225 690h4v1h-4zM225 691h1v1h-1zM229 691h1v1h-1zM229 692h1v1h-1zM229 693h1v1h-1zM225 694h1v1h-1zM229 694h1v1h-1zM226 695h3v1h-3zM231 690h1v1h-1zM231 695h1v1h-1zM234 687h5v1h-5zM234 688h1v1h-1zM234 689h1v1h-1zM234 690h4v1h-4zM234 691h1v1h-1zM238 691h1v1h-1zM238 692h1v1h-1zM238 693h1v1h-1zM234 694h1v1h-1zM238 694h1v1h-1zM235 695h3v1h-3zM241 687h3v1h-3zM240 688h1v1h-1zM244 688h1v1h-1zM240 689h1v1h-1zM244 689h1v1h-1zM240 690h1v1h-1zM244 690h1v1h-1zM240 691h1v1h-1zM244 691h1v1h-1zM240 692h1v1h-1zM244 692h1v1h-1zM240 693h1v1h-1zM244 693h1v1h-1zM240 694h1v1h-1zM244 694h1v1h-1zM241 695h3v1h-3zM298 687h1v1h-1zM296 688h3v1h-3zM298 689h1v1h-1zM298 690h1v1h-1zM298 691h1v1h-1zM298 692h1v1h-1zM298 693h1v1h-1zM298 694h1v1h-1zM298 695h1v1h-1zM303 687h3v1h-3zM302 688h1v1h-1zM306 688h1v1h-1zM302 689h1v1h-1zM306 689h1v1h-1zM302 690h1v1h-1zM306 690h1v1h-1zM303 691h4v1h-4zM306 692h1v1h-1zM306 693h1v1h-1zM302 694h1v1h-1zM306 694h1v1h-1zM303 695h3v1h-3zM308 695h1v1h-1zM314 687h1v1h-1zM313 688h2v1h-2zM313 689h2v1h-2zM312 690h1v1h-1zM314 690h1v1h-1zM312 691h1v1h-1zM314 691h1v1h-1zM311 692h1v1h-1zM314 692h1v1h-1zM311 693h5v1h-5zM314 694h1v1h-1zM314 695h1v1h-1zM220 703h3v1h-3zM219 704h1v1h-1zM223 704h1v1h-1zM223 705h1v1h-1zM223 706h1v1h-1zM222 707h1v1h-1zM221 708h1v1h-1zM220 709h1v1h-1zM219 710h1v1h-1zM219 711h5v1h-5zM226 703h3v1h-3zM225 704h1v1h-1zM229 704h1v1h-1zM225 705h1v1h-1zM229 705h1v1h-1zM225 706h1v1h-1zM229 706h1v1h-1zM225 707h1v1h-1zM229 707h1v1h-1zM225 708h1v1h-1zM229 708h1v1h-1zM225 709h1v1h-1zM229 709h1v1h-1zM225 710h1v1h-1zM229 710h1v1h-1zM226 711h3v1h-3zM231 706h1v1h-1zM231 711h1v1h-1zM236 703h1v1h-1zM234 704h3v1h-3zM236 705h1v1h-1zM236 706h1v1h-1zM236 707h1v1h-1zM236 708h1v1h-1zM236 709h1v1h-1zM236 710h1v1h-1zM236 711h1v1h-1zM241 703h3v1h-3zM240 704h1v1h-1zM244 704h1v1h-1zM240 705h1v1h-1zM244 705h1v1h-1zM240 706h1v1h-1zM244 706h1v1h-1zM240 707h1v1h-1zM244 707h1v1h-1zM240 708h1v1h-1zM244 708h1v1h-1zM240 709h1v1h-1zM244 709h1v1h-1zM240 710h1v1h-1zM244 710h1v1h-1zM241 711h3v1h-3zM298 703h1v1h-1zM296 704h3v1h-3zM298 705h1v1h-1zM298 706h1v1h-1zM298 707h1v1h-1zM298 708h1v1h-1zM298 709h1v1h-1zM298 710h1v1h-1zM298 711h1v1h-1zM303 703h3v1h-3zM302 704h1v1h-1zM306 704h1v1h-1zM302 705h1v1h-1zM306 705h1v1h-1zM302 706h1v1h-1zM306 706h1v1h-1zM303 707h4v1h-4zM306 708h1v1h-1zM306 709h1v1h-1zM302 710h1v1h-1zM306 710h1v1h-1zM303 711h3v1h-3zM308 711h1v1h-1zM312 703h3v1h-3zM311 704h1v1h-1zM315 704h1v1h-1zM311 705h1v1h-1zM315 705h1v1h-1zM311 706h1v1h-1zM315 706h1v1h-1zM312 707h3v1h-3zM311 708h1v1h-1zM315 708h1v1h-1zM311 709h1v1h-1zM315 709h1v1h-1zM311 710h1v1h-1zM315 710h1v1h-1zM312 711h3v1h-3zM292 719h1v1h-1zM290 720h3v1h-3zM292 721h1v1h-1zM292 722h1v1h-1zM292 723h1v1h-1zM292 724h1v1h-1zM292 725h1v1h-1zM292 726h1v1h-1zM292 727h1v1h-1zM297 719h3v1h-3zM296 720h1v1h-1zM300 720h1v1h-1zM296 721h1v1h-1zM300 721h1v1h-1zM296 722h1v1h-1zM300 722h1v1h-1zM297 723h4v1h-4zM300 724h1v1h-1zM300 725h1v1h-1zM296 726h1v1h-1zM300 726h1v1h-1zM297 727h3v1h-3zM302 727h1v1h-1zM305 719h5v1h-5zM305 720h1v1h-1zM305 721h1v1h-1zM305 722h4v1h-4zM305 723h1v1h-1zM309 723h1v1h-1zM309 724h1v1h-1zM309 725h1v1h-1zM305 726h1v1h-1zM309 726h1v1h-1zM306 727h3v1h-3zM312 719h3v1h-3zM311 720h1v1h-1zM315 720h1v1h-1zM311 721h1v1h-1zM315 721h1v1h-1zM311 722h1v1h-1zM315 722h1v1h-1zM312 723h3v1h-3zM311 724h1v1h-1zM315 724h1v1h-1zM311 725h1v1h-1zM315 725h1v1h-1zM311 726h1v1h-1zM315 726h1v1h-1zM312 727h3v1h-3zM693 687h1v1h-1zM691 688h3v1h-3zM693 689h1v1h-1zM693 690h1v1h-1zM693 691h1v1h-1zM693 692h1v1h-1zM693 693h1v1h-1zM693 694h1v1h-1zM693 695h1v1h-1zM698 687h3v1h-3zM697 688h1v1h-1zM701 688h1v1h-1zM697 689h1v1h-1zM701 689h1v1h-1zM697 690h1v1h-1zM701 690h1v1h-1zM698 691h3v1h-3zM697 692h1v1h-1zM701 692h1v1h-1zM697 693h1v1h-1zM701 693h1v1h-1zM697 694h1v1h-1zM701 694h1v1h-1zM698 695h3v1h-3zM703 690h1v1h-1zM703 695h1v1h-1zM708 687h1v1h-1zM706 688h3v1h-3zM708 689h1v1h-1zM708 690h1v1h-1zM708 691h1v1h-1zM708 692h1v1h-1zM708 693h1v1h-1zM708 694h1v1h-1zM708 695h1v1h-1zM712 687h5v1h-5zM712 688h1v1h-1zM712 689h1v1h-1zM712 690h4v1h-4zM712 691h1v1h-1zM716 691h1v1h-1zM716 692h1v1h-1zM716 693h1v1h-1zM712 694h1v1h-1zM716 694h1v1h-1zM713 695h3v1h-3zM758 687h1v1h-1zM756 688h3v1h-3zM758 689h1v1h-1zM758 690h1v1h-1zM758 691h1v1h-1zM758 692h1v1h-1zM758 693h1v1h-1zM758 694h1v1h-1zM758 695h1v1h-1zM763 687h3v1h-3zM762 688h1v1h-1zM766 688h1v1h-1zM762 689h1v1h-1zM766 689h1v1h-1zM762 690h1v1h-1zM766 690h1v1h-1zM762 691h1v1h-1zM766 691h1v1h-1zM762 692h1v1h-1zM766 692h1v1h-1zM762 693h1v1h-1zM766 693h1v1h-1zM762 694h1v1h-1zM766 694h1v1h-1zM763 695h3v1h-3zM770 687h1v1h-1zM768 688h3v1h-3zM770 689h1v1h-1zM770 690h1v1h-1zM770 691h1v1h-1zM770 692h1v1h-1zM770 693h1v1h-1zM770 694h1v1h-1zM770 695h1v1h-1zM775 687h3v1h-3zM774 688h1v1h-1zM778 688h1v1h-1zM774 689h1v1h-1zM774 690h1v1h-1zM774 691h4v1h-4zM774 692h1v1h-1zM778 692h1v1h-1zM774 693h1v1h-1zM778 693h1v1h-1zM774 694h1v1h-1zM778 694h1v1h-1zM775 695h3v1h-3zM780 695h1v1h-1zM784 687h3v1h-3zM783 688h1v1h-1zM787 688h1v1h-1zM783 689h1v1h-1zM787 689h1v1h-1zM783 690h1v1h-1zM787 690h1v1h-1zM784 691h3v1h-3zM783 692h1v1h-1zM787 692h1v1h-1zM783 693h1v1h-1zM787 693h1v1h-1zM783 694h1v1h-1zM787 694h1v1h-1zM784 695h3v1h-3zM692 703h3v1h-3zM691 704h1v1h-1zM695 704h1v1h-1zM691 705h1v1h-1zM695 705h1v1h-1zM691 706h1v1h-1zM695 706h1v1h-1zM691 707h1v1h-1zM695 707h1v1h-1zM691 708h1v1h-1zM695 708h1v1h-1zM691 709h1v1h-1zM695 709h1v1h-1zM691 710h1v1h-1zM695 710h1v1h-1zM692 711h3v1h-3zM698 703h3v1h-3zM697 704h1v1h-1zM701 704h1v1h-1zM697 705h1v1h-1zM701 705h1v1h-1zM697 706h1v1h-1zM701 706h1v1h-1zM697 707h1v1h-1zM701 707h1v1h-1zM697 708h1v1h-1zM701 708h1v1h-1zM697 709h1v1h-1zM701 709h1v1h-1zM697 710h1v1h-1zM701 710h1v1h-1zM698 711h3v1h-3zM703 706h1v1h-1zM703 711h1v1h-1zM707 703h3v1h-3zM706 704h1v1h-1zM710 704h1v1h-1zM706 705h1v1h-1zM710 705h1v1h-1zM706 706h1v1h-1zM710 706h1v1h-1zM706 707h1v1h-1zM710 707h1v1h-1zM706 708h1v1h-1zM710 708h1v1h-1zM706 709h1v1h-1zM710 709h1v1h-1zM706 710h1v1h-1zM710 710h1v1h-1zM707 711h3v1h-3zM713 703h3v1h-3zM712 704h1v1h-1zM716 704h1v1h-1zM712 705h1v1h-1zM716 705h1v1h-1zM712 706h1v1h-1zM716 706h1v1h-1zM712 707h1v1h-1zM716 707h1v1h-1zM712 708h1v1h-1zM716 708h1v1h-1zM712 709h1v1h-1zM716 709h1v1h-1zM712 710h1v1h-1zM716 710h1v1h-1zM713 711h3v1h-3zM758 703h1v1h-1zM756 704h3v1h-3zM758 705h1v1h-1zM758 706h1v1h-1zM758 707h1v1h-1zM758 708h1v1h-1zM758 709h1v1h-1zM758 710h1v1h-1zM758 711h1v1h-1zM763 703h3v1h-3zM762 704h1v1h-1zM766 704h1v1h-1zM762 705h1v1h-1zM766 705h1v1h-1zM762 706h1v1h-1zM766 706h1v1h-1zM762 707h1v1h-1zM766 707h1v1h-1zM762 708h1v1h-1zM766 708h1v1h-1zM762 709h1v1h-1zM766 709h1v1h-1zM762 710h1v1h-1zM766 710h1v1h-1zM763 711h3v1h-3zM769 703h3v1h-3zM768 704h1v1h-1zM772 704h1v1h-1zM772 705h1v1h-1zM772 706h1v1h-1zM771 707h1v1h-1zM770 708h1v1h-1zM769 709h1v1h-1zM768 710h1v1h-1zM768 711h5v1h-5zM775 703h3v1h-3zM774 704h1v1h-1zM778 704h1v1h-1zM774 705h1v1h-1zM778 705h1v1h-1zM774 706h1v1h-1zM778 706h1v1h-1zM774 707h1v1h-1zM778 707h1v1h-1zM774 708h1v1h-1zM778 708h1v1h-1zM774 709h1v1h-1zM778 709h1v1h-1zM774 710h1v1h-1zM778 710h1v1h-1zM775 711h3v1h-3zM780 711h1v1h-1zM783 703h5v1h-5zM787 704h1v1h-1zM786 705h1v1h-1zM786 706h1v1h-1zM785 707h1v1h-1zM785 708h1v1h-1zM784 709h1v1h-1zM784 710h1v1h-1zM784 711h1v1h-1zM758 719h1v1h-1zM756 720h3v1h-3zM758 721h1v1h-1zM758 722h1v1h-1zM758 723h1v1h-1zM758 724h1v1h-1zM758 725h1v1h-1zM758 726h1v1h-1zM758 727h1v1h-1zM763 719h3v1h-3zM762 720h1v1h-1zM766 720h1v1h-1zM762 721h1v1h-1zM766 721h1v1h-1zM762 722h1v1h-1zM766 722h1v1h-1zM762 723h1v1h-1zM766 723h1v1h-1zM762 724h1v1h-1zM766 724h1v1h-1zM762 725h1v1h-1zM766 725h1v1h-1zM762 726h1v1h-1zM766 726h1v1h-1zM763 727h3v1h-3zM770 719h1v1h-1zM768 720h3v1h-3zM770 721h1v1h-1zM770 722h1v1h-1zM770 723h1v1h-1zM770 724h1v1h-1zM770 725h1v1h-1zM770 726h1v1h-1zM770 727h1v1h-1zM775 719h3v1h-3zM774 720h1v1h-1zM778 720h1v1h-1zM774 721h1v1h-1zM778 721h1v1h-1zM774 722h1v1h-1zM778 722h1v1h-1zM775 723h3v1h-3zM774 724h1v1h-1zM778 724h1v1h-1zM774 725h1v1h-1zM778 725h1v1h-1zM774 726h1v1h-1zM778 726h1v1h-1zM775 727h3v1h-3zM780 727h1v1h-1zM784 719h3v1h-3zM783 720h1v1h-1zM787 720h1v1h-1zM783 721h1v1h-1zM787 721h1v1h-1zM783 722h1v1h-1zM787 722h1v1h-1zM784 723h3v1h-3zM783 724h1v1h-1zM787 724h1v1h-1zM783 725h1v1h-1zM787 725h1v1h-1zM783 726h1v1h-1zM787 726h1v1h-1zM784 727h3v1h-3zM810 703h3v1h-3zM809 704h1v1h-1zM813 704h1v1h-1zM809 705h1v1h-1zM813 705h1v1h-1zM809 706h1v1h-1zM813 706h1v1h-1zM809 707h1v1h-1zM813 707h1v1h-1zM809 708h1v1h-1zM813 708h1v1h-1zM809 709h1v1h-1zM813 709h1v1h-1zM809 710h1v1h-1zM813 710h1v1h-1zM810 711h3v1h-3zM816 703h3v1h-3zM815 704h1v1h-1zM819 704h1v1h-1zM815 705h1v1h-1zM819 705h1v1h-1zM815 706h1v1h-1zM819 706h1v1h-1zM815 707h1v1h-1zM819 707h1v1h-1zM815 708h1v1h-1zM819 708h1v1h-1zM815 709h1v1h-1zM819 709h1v1h-1zM815 710h1v1h-1zM819 710h1v1h-1zM816 711h3v1h-3zM821 706h1v1h-1zM821 711h1v1h-1zM825 703h3v1h-3zM824 704h1v1h-1zM828 704h1v1h-1zM824 705h1v1h-1zM828 705h1v1h-1zM824 706h1v1h-1zM828 706h1v1h-1zM824 707h1v1h-1zM828 707h1v1h-1zM824 708h1v1h-1zM828 708h1v1h-1zM824 709h1v1h-1zM828 709h1v1h-1zM824 710h1v1h-1zM828 710h1v1h-1zM825 711h3v1h-3zM831 703h3v1h-3zM830 704h1v1h-1zM834 704h1v1h-1zM830 705h1v1h-1zM834 705h1v1h-1zM830 706h1v1h-1zM834 706h1v1h-1zM830 707h1v1h-1zM834 707h1v1h-1zM830 708h1v1h-1zM834 708h1v1h-1zM830 709h1v1h-1zM834 709h1v1h-1zM830 710h1v1h-1zM834 710h1v1h-1zM831 711h3v1h-3zM893 703h3v1h-3zM892 704h1v1h-1zM896 704h1v1h-1zM892 705h1v1h-1zM896 705h1v1h-1zM892 706h1v1h-1zM896 706h1v1h-1zM892 707h1v1h-1zM896 707h1v1h-1zM892 708h1v1h-1zM896 708h1v1h-1zM892 709h1v1h-1zM896 709h1v1h-1zM892 710h1v1h-1zM896 710h1v1h-1zM893 711h3v1h-3zM898 711h1v1h-1zM902 703h3v1h-3zM901 704h1v1h-1zM905 704h1v1h-1zM901 705h1v1h-1zM905 705h1v1h-1zM901 706h1v1h-1zM905 706h1v1h-1zM901 707h1v1h-1zM905 707h1v1h-1zM901 708h1v1h-1zM905 708h1v1h-1zM901 709h1v1h-1zM905 709h1v1h-1zM901 710h1v1h-1zM905 710h1v1h-1zM902 711h3v1h-3zM893 719h3v1h-3zM892 720h1v1h-1zM896 720h1v1h-1zM892 721h1v1h-1zM896 721h1v1h-1zM892 722h1v1h-1zM896 722h1v1h-1zM892 723h1v1h-1zM896 723h1v1h-1zM892 724h1v1h-1zM896 724h1v1h-1zM892 725h1v1h-1zM896 725h1v1h-1zM892 726h1v1h-1zM896 726h1v1h-1zM893 727h3v1h-3zM898 727h1v1h-1zM902 719h3v1h-3zM901 720h1v1h-1zM905 720h1v1h-1zM901 721h1v1h-1zM905 721h1v1h-1zM901 722h1v1h-1zM905 722h1v1h-1zM901 723h1v1h-1zM905 723h1v1h-1zM901 724h1v1h-1zM905 724h1v1h-1zM901 725h1v1h-1zM905 725h1v1h-1zM901 726h1v1h-1zM905 726h1v1h-1zM902 727h3v1h-3zM1009 687h3v1h-3zM1008 688h1v1h-1zM1012 688h1v1h-1zM1008 689h1v1h-1zM1012 689h1v1h-1zM1008 690h1v1h-1zM1012 690h1v1h-1zM1008 691h1v1h-1zM1012 691h1v1h-1zM1008 692h1v1h-1zM1012 692h1v1h-1zM1008 693h1v1h-1zM1012 693h1v1h-1zM1008 694h1v1h-1zM1012 694h1v1h-1zM1009 695h3v1h-3zM1014 695h1v1h-1zM1018 687h3v1h-3zM1017 688h1v1h-1zM1021 688h1v1h-1zM1017 689h1v1h-1zM1021 689h1v1h-1zM1017 690h1v1h-1zM1021 690h1v1h-1zM1017 691h1v1h-1zM1021 691h1v1h-1zM1017 692h1v1h-1zM1021 692h1v1h-1zM1017 693h1v1h-1zM1021 693h1v1h-1zM1017 694h1v1h-1zM1021 694h1v1h-1zM1018 695h3v1h-3zM928 703h3v1h-3zM927 704h1v1h-1zM931 704h1v1h-1zM927 705h1v1h-1zM931 705h1v1h-1zM927 706h1v1h-1zM931 706h1v1h-1zM927 707h1v1h-1zM931 707h1v1h-1zM927 708h1v1h-1zM931 708h1v1h-1zM927 709h1v1h-1zM931 709h1v1h-1zM927 710h1v1h-1zM931 710h1v1h-1zM928 711h3v1h-3zM934 703h3v1h-3zM933 704h1v1h-1zM937 704h1v1h-1zM933 705h1v1h-1zM937 705h1v1h-1zM933 706h1v1h-1zM937 706h1v1h-1zM933 707h1v1h-1zM937 707h1v1h-1zM933 708h1v1h-1zM937 708h1v1h-1zM933 709h1v1h-1zM937 709h1v1h-1zM933 710h1v1h-1zM937 710h1v1h-1zM934 711h3v1h-3zM939 706h1v1h-1zM939 711h1v1h-1zM943 703h3v1h-3zM942 704h1v1h-1zM946 704h1v1h-1zM946 705h1v1h-1zM946 706h1v1h-1zM945 707h1v1h-1zM944 708h1v1h-1zM943 709h1v1h-1zM942 710h1v1h-1zM942 711h5v1h-5zM949 703h3v1h-3zM948 704h1v1h-1zM952 704h1v1h-1zM948 705h1v1h-1zM952 705h1v1h-1zM948 706h1v1h-1zM952 706h1v1h-1zM948 707h1v1h-1zM952 707h1v1h-1zM948 708h1v1h-1zM952 708h1v1h-1zM948 709h1v1h-1zM952 709h1v1h-1zM948 710h1v1h-1zM952 710h1v1h-1zM949 711h3v1h-3zM1008 703h5v1h-5zM1008 704h1v1h-1zM1008 705h1v1h-1zM1008 706h4v1h-4zM1008 707h1v1h-1zM1012 707h1v1h-1zM1012 708h1v1h-1zM1012 709h1v1h-1zM1008 710h1v1h-1zM1012 710h1v1h-1zM1009 711h3v1h-3zM1014 711h1v1h-1zM1018 703h3v1h-3zM1017 704h1v1h-1zM1021 704h1v1h-1zM1021 705h1v1h-1zM1021 706h1v1h-1zM1019 707h2v1h-2zM1021 708h1v1h-1zM1021 709h1v1h-1zM1017 710h1v1h-1zM1021 710h1v1h-1zM1018 711h3v1h-3zM1009 719h3v1h-3zM1008 720h1v1h-1zM1012 720h1v1h-1zM1008 721h1v1h-1zM1012 721h1v1h-1zM1008 722h1v1h-1zM1012 722h1v1h-1zM1008 723h1v1h-1zM1012 723h1v1h-1zM1008 724h1v1h-1zM1012 724h1v1h-1zM1008 725h1v1h-1zM1012 725h1v1h-1zM1008 726h1v1h-1zM1012 726h1v1h-1zM1009 727h3v1h-3zM1014 727h1v1h-1zM1019 719h1v1h-1zM1017 720h3v1h-3zM1019 721h1v1h-1zM1019 722h1v1h-1zM1019 723h1v1h-1zM1019 724h1v1h-1zM1019 725h1v1h-1zM1019 726h1v1h-1zM1019 727h1v1h-1z" fill="#000000" shape-rendering="crispEdges"/>
<path d="M1526 44h1v1h-1zM1524 45h3v1h-3zM1526 46h1v1h-1zM1526 47h1v1h-1zM1526 48h1v1h-1zM1526 49h1v1h-1zM1526 50h1v1h-1zM1526 51h1v1h-1zM1526 52h1v1h-1zM1531 44h3v1h-3zM1530 45h1v1h-1zM1534 45h1v1h-1zM1530 46h1v1h-1zM1534 46h1v1h-1zM1530 47h1v1h-1zM1534 47h1v1h-1zM1530 48h1v1h-1zM1534 48h1v1h-1zM1530 49h1v1h-1zM1534 49h1v1h-1zM1530 50h1v1h-1zM1534 50h1v1h-1zM1530 51h1v1h-1zM1534 51h1v1h-1zM1531 52h3v1h-3zM1537 44h3v1h-3zM1536 45h1v1h-1zM1540 45h1v1h-1zM1536 46h1v1h-1zM1540 46h1v1h-1zM1536 47h1v1h-1zM1540 47h1v1h-1zM1536 48h1v1h-1zM1540 48h1v1h-1zM1536 49h1v1h-1zM1540 49h1v1h-1zM1536 50h1v1h-1zM1540 50h1v1h-1zM1536 51h1v1h-1zM1540 51h1v1h-1zM1537 52h3v1h-3zM1525 102h3v1h-3zM1524 103h1v1h-1zM1528 103h1v1h-1zM1524 104h1v1h-1zM1528 104h1v1h-1zM1524 105h1v1h-1zM1528 105h1v1h-1zM1525 106h4v1h-4zM1528 107h1v1h-1zM1528 108h1v1h-1zM1524 109h1v1h-1zM1528 109h1v1h-1zM1525 110h3v1h-3zM1531 102h3v1h-3zM1530 103h1v1h-1zM1534 103h1v1h-1zM1530 104h1v1h-1zM1534 104h1v1h-1zM1530 105h1v1h-1zM1534 105h1v1h-1zM1530 106h1v1h-1zM1534 106h1v1h-1zM1530 107h1v1h-1zM1534 107h1v1h-1zM1530 108h1v1h-1zM1534 108h1v1h-1zM1530 109h1v1h-1zM1534 109h1v1h-1zM1531 110h3v1h-3zM1525 160h3v1h-3zM1524 161h1v1h-1zM1528 161h1v1h-1zM1524 162h1v1h-1zM1528 162h1v1h-1zM1524 163h1v1h-1zM1528 163h1v1h-1zM1525 164h3v1h-3zM1524 165h1v1h-1zM1528 165h1v1h-1zM1524 166h1v1h-1zM1528 166h1v1h-1zM1524 167h1v1h-1zM1528 167h1v1h-1zM1525 168h3v1h-3zM1531 160h3v1h-3zM1530 161h1v1h-1zM1534 161h1v1h-1zM1530 162h1v1h-1zM1534 162h1v1h-1zM1530 163h1v1h-1zM1534 163h1v1h-1zM1530 164h1v1h-1zM1534 164h1v1h-1zM1530 165h1v1h-1zM1534 165h1v1h-1zM1530 166h1v1h-1zM1534 166h1v1h-1zM1530 167h1v1h-1zM1534 167h1v1h-1zM1531 168h3v1h-3zM1524 218h5v1h-5zM1528 219h1v1h-1zM1527 220h1v1h-1zM1527 221h1v1h-1zM1526 222h1v1h-1zM1526 223h1v1h-1zM1525 224h1v1h-1zM1525 225h1v1h-1zM1525 226h1v1h-1zM1531 218h3v1h-3zM1530 219h1v1h-1zM1534 219h1v1h-1zM1530 220h1v1h-1zM1534 220h1v1h-1zM1530 221h1v1h-1zM1534 221h1v1h-1zM1530 222h1v1h-1zM1534 222h1v1h-1zM1530 223h1v1h-1zM1534 223h1v1h-1zM1530 224h1v1h-1zM1534 224h1v1h-1zM1530 225h1v1h-1zM1534 225h1v1h-1zM1531 226h3v1h-3zM1525 276h3v1h-3zM1524 277h1v1h-1zM1528 277h1v1h-1zM1524 278h1v1h-1zM1524 279h1v1h-1zM1524 280h4v1h-4zM1524 281h1v1h-1zM1528 281h1v1h-1zM1524 282h1v1h-1zM1528 282h1v1h-1zM1524 283h1v1h-1zM1528 283h1v1h-1zM1525 284h3v1h-3zM1531 276h3v1h-3zM1530 277h1v1h-1zM1534 277h1v1h-1zM1530 278h1v1h-1zM1534 278h1v1h-1zM1530 279h1v1h-1zM1534 279h1v1h-1zM1530 280h1v1h-1zM1534 280h1v1h-1zM1530 281h1v1h-1zM1534 281h1v1h-1zM1530 282h1v1h-1zM1534 282h1v1h-1zM1530 283h1v1h-1zM1534 283h1v1h-1zM1531 284h3v1h-3zM1524 334h5v1h-5zM1524 335h1v1h-1zM1524 336h1v1h-1zM1524 337h4v1h-4zM1524 338h1v1h-1zM1528 338h1v1h-1zM1528 339h1v1h-1zM1528 340h1v1h-1zM1524 341h1v1h-1zM1528 341h1v1h-1zM1525 342h3v1h-3zM1531 334h3v1h-3zM1530 335h1v1h-1zM1534 335h1v1h-1zM1530 336h1v1h-1zM1534 336h1v1h-1zM1530 337h1v1h-1zM1534 337h1v1h-1zM1530 338h1v1h-1zM1534 338h1v1h-1zM1530 339h1v1h-1zM1534 339h1v1h-1zM1530 340h1v1h-1zM1534 340h1v1h-1zM1530 341h1v1h-1zM1534 341h1v1h-1zM1531 342h3v1h-3zM1527 392h1v1h-1zM1526 393h2v1h-2zM1526 394h2v1h-2zM1525 395h1v1h-1zM1527 395h1v1h-1zM1525 396h1v1h-1zM1527 396h1v1h-1zM1524 397h1v1h-1zM1527 397h1v1h-1zM1524 398h5v1h-5zM1527 399h1v1h-1zM1527 400h1v1h-1zM1531 392h3v1h-3zM1530 393h1v1h-1zM1534 393h1v1h-1zM1530 394h1v1h-1zM1534 394h1v1h-1zM1530 395h1v1h-1zM1534 395h1v1h-1zM1530 396h1v1h-1zM1534 396h1v1h-1zM1530 397h1v1h-1zM1534 397h1v1h-1zM1530 398h1v1h-1zM1534 398h1v1h-1zM1530 399h1v1h-1zM1534 399h1v1h-1zM1531 400h3v1h-3zM1525 450h3v1h-3zM1524 451h1v1h-1zM1528 451h1v1h-1zM1528 452h1v1h-1zM1528 453h1v1h-1zM1526 454h2v1h-2zM1528 455h1v1h-1zM1528 456h1v1h-1zM1524 457h1v1h-1zM1528 457h1v1h-1zM1525 458h3v1h-3zM1531 450h3v1h-3zM1530 451h1v1h-1zM1534 451h1v1h-1zM1530 452h1v1h-1zM1534 452h1v1h-1zM1530 453h1v1h-1zM1534 453h1v1h-1zM1530 454h1v1h-1zM1534 454h1v1h-1zM1530 455h1v1h-1zM1534 455h1v1h-1zM1530 456h1v1h-1zM1534 456h1v1h-1zM1530 457h1v1h-1zM1534 457h1v1h-1zM1531 458h3v1h-3zM1525 508h3v1h-3zM1524 509h1v1h-1zM1528 509h1v1h-1zM1528 510h1v1h-1zM1528 511h1v1h-1zM1527 512h1v1h-1zM1526 513h1v1h-1zM1525 514h1v1h-1zM1524 515h1v1h-1zM1524 516h5v1h-5zM1531 508h3v1h-3zM1530 509h1v1h-1zM1534 509h1v1h-1zM1530 510h1v1h-1zM1534 510h1v1h-1zM1530 511h1v1h-1zM1534 511h1v1h-1zM1530 512h1v1h-1zM1534 512h1v1h-1zM1530 513h1v1h-1zM1534 513h1v1h-1zM1530 514h1v1h-1zM1534 514h1v1h-1zM1530 515h1v1h-1zM1534 515h1v1h-1zM1531 516h3v1h-3zM1526 566h1v1h-1zM1524 567h3v1h-3zM1526 568h1v1h-1zM1526 569h1v1h-1zM1526 570h1v1h-1zM1526 571h1v1h-1zM1526 572h1v1h-1zM1526 573h1v1h-1zM1526 574h1v1h-1zM1531 566h3v1h-3zM1530 567h1v1h-1zM1534 567h1v1h-1zM1530 568h1v1h-1zM1534 568h1v1h-1zM1530 569h1v1h-1zM1534 569h1v1h-1zM1530 570h1v1h-1zM1534 570h1v1h-1zM1530 571h1v1h-1zM1534 571h1v1h-1zM1530 572h1v1h-1zM1534 572h1v1h-1zM1530 573h1v1h-1zM1534 573h1v1h-1zM1531 574h3v1h-3zM1525 624h3v1h-3zM1524 625h1v1h-1zM1528 625h1v1h-1zM1524 626h1v1h-1zM1528 626h1v1h-1zM1524 627h1v1h-1zM1528 627h1v1h-1zM1524 628h1v1h-1zM1528 628h1v1h-1zM1524 629h1v1h-1zM1528 629h1v1h-1zM1524 630h1v1h-1zM1528 630h1v1h-1zM1524 631h1v1h-1zM1528 631h1v1h-1zM1525 632h3v1h-3z" fill="#00ffff" shape-rendering="crispEdges"/>
<path d="M1561 44h5v1h-5zM1561 45h1v1h-1zM1561 46h1v1h-1zM1561 47h4v1h-4zM1561 48h1v1h-1zM1565 48h1v1h-1zM1565 49h1v1h-1zM1565 50h1v1h-1zM1561 51h1v1h-1zM1565 51h1v1h-1zM1562 52h3v1h-3zM1568 44h3v1h-3zM1567 45h1v1h-1zM1571 45h1v1h-1zM1567 46h1v1h-1zM1571 46h1v1h-1zM1567 47h1v1h-1zM1571 47h1v1h-1zM1567 48h1v1h-1zM1571 48h1v1h-1zM1567 49h1v1h-1zM1571 49h1v1h-1zM1567 50h1v1h-1zM1571 50h1v1h-1zM1567 51h1v1h-1zM1571 51h1v1h-1zM1568 52h3v1h-3zM1573 52h1v1h-1zM1577 44h3v1h-3zM1576 45h1v1h-1zM1580 45h1v1h-1zM1576 46h1v1h-1zM1580 46h1v1h-1zM1576 47h1v1h-1zM1580 47h1v1h-1zM1576 48h1v1h-1zM1580 48h1v1h-1zM1576 49h1v1h-1zM1580 49h1v1h-1zM1576 50h1v1h-1zM1580 50h1v1h-1zM1576 51h1v1h-1zM1580 51h1v1h-1zM1577 52h3v1h-3zM1564 102h1v1h-1zM1563 103h2v1h-2zM1563 104h2v1h-2zM1562 105h1v1h-1zM1564 105h1v1h-1zM1562 106h1v1h-1zM1564 106h1v1h-1zM1561 107h1v1h-1zM1564 107h1v1h-1zM1561 108h5v1h-5zM1564 109h1v1h-1zM1564 110h1v1h-1zM1567 102h5v1h-5zM1567 103h1v1h-1zM1567 104h1v1h-1zM1567 105h4v1h-4zM1567 106h1v1h-1zM1571 106h1v1h-1zM1571 107h1v1h-1zM1571 108h1v1h-1zM1567 109h1v1h-1zM1571 109h1v1h-1zM1568 110h3v1h-3zM1573 110h1v1h-1zM1577 102h3v1h-3zM1576 103h1v1h-1zM1580 103h1v1h-1zM1576 104h1v1h-1zM1580 104h1v1h-1zM1576 105h1v1h-1zM1580 105h1v1h-1zM1576 106h1v1h-1zM1580 106h1v1h-1zM1576 107h1v1h-1zM1580 107h1v1h-1zM1576 108h1v1h-1zM1580 108h1v1h-1zM1576 109h1v1h-1zM1580 109h1v1h-1zM1577 110h3v1h-3zM1564 160h1v1h-1zM1563 161h2v1h-2zM1563 162h2v1h-2zM1562 163h1v1h-1zM1564 163h1v1h-1zM1562 164h1v1h-1zM1564 164h1v1h-1zM1561 165h1v1h-1zM1564 165h1v1h-1zM1561 166h5v1h-5zM1564 167h1v1h-1zM1564 168h1v1h-1zM1568 160h3v1h-3zM1567 161h1v1h-1zM1571 161h1v1h-1zM1567 162h1v1h-1zM1571 162h1v1h-1zM1567 163h1v1h-1zM1571 163h1v1h-1zM1567 164h1v1h-1zM1571 164h1v1h-1zM1567 165h1v1h-1zM1571 165h1v1h-1zM1567 166h1v1h-1zM1571 166h1v1h-1zM1567 167h1v1h-1zM1571 167h1v1h-1zM1568 168h3v1h-3zM1573 168h1v1h-1zM1577 160h3v1h-3zM1576 161h1v1h-1zM1580 161h1v1h-1zM1576 162h1v1h-1zM1580 162h1v1h-1zM1576 163h1v1h-1zM1580 163h1v1h-1zM1576 164h1v1h-1zM1580 164h1v1h-1zM1576 165h1v1h-1zM1580 165h1v1h-1zM1576 166h1v1h-1zM1580 166h1v1h-1zM1576 167h1v1h-1zM1580 167h1v1h-1zM1577 168h3v1h-3zM1562 218h3v1h-3zM1561 219h1v1h-1zM1565 219h1v1h-1zM1565 220h1v1h-1zM1565 221h1v1h-1zM1563 222h2v1h-2zM1565 223h1v1h-1zM1565 224h1v1h-1zM1561 225h1v1h-1zM1565 225h1v1h-1zM1562 226h3v1h-3zM1567 218h5v1h-5zM1567 219h1v1h-1zM1567 220h1v1h-1zM1567 221h4v1h-4zM1567 222h1v1h-1zM1571 222h1v1h-1zM1571 223h1v1h-1zM1571 224h1v1h-1zM1567 225h1v1h-1zM1571 225h1v1h-1zM1568 226h3v1h-3zM1573 226h1v1h-1zM1577 218h3v1h-3zM1576 219h1v1h-1zM1580 219h1v1h-1zM1576 220h1v1h-1zM1580 220h1v1h-1zM1576 221h1v1h-1zM1580 221h1v1h-1zM1576 222h1v1h-1zM1580 222h1v1h-1zM1576 223h1v1h-1zM1580 223h1v1h-1zM1576 224h1v1h-1zM1580 224h1v1h-1zM1576 225h1v1h-1zM1580 225h1v1h-1zM1577 226h3v1h-3zM1562 276h3v1h-3zM1561 277h1v1h-1zM1565 277h1v1h-1zM1565 278h1v1h-1zM1565 279h1v1h-1zM1563 280h2v1h-2zM1565 281h1v1h-1zM1565 282h1v1h-1zM1561 283h1v1h-1zM1565 283h1v1h-1zM1562 284h3v1h-3zM1568 276h3v1h-3zM1567 277h1v1h-1zM1571 277h1v1h-1zM1567 278h1v1h-1zM1571 278h1v1h-1zM1567 279h1v1h-1zM1571 279h1v1h-1zM1567 280h1v1h-1zM1571 280h1v1h-1zM1567 281h1v1h-1zM1571 281h1v1h-1zM1567 282h1v1h-1zM1571 282h1v1h-1zM1567 283h1v1h-1zM1571 283h1v1h-1zM1568 284h3v1h-3zM1573 284h1v1h-1zM1577 276h3v1h-3zM1576 277h1v1h-1zM1580 277h1v1h-1zM1576 278h1v1h-1zM1580 278h1v1h-1zM1576 279h1v1h-1zM1580 279h1v1h-1zM1576 280h1v1h-1zM1580 280h1v1h-1zM1576 281h1v1h-1zM1580 281h1v1h-1zM1576 282h1v1h-1zM1580 282h1v1h-1zM1576 283h1v1h-1zM1580 283h1v1h-1zM1577 284h3v1h-3zM1562 334h3v1h-3zM1561 335h1v1h-1zM1565 335h1v1h-1zM1565 336h1v1h-1zM1565 337h1v1h-1zM1564 338h1v1h-1zM1563 339h1v1h-1zM1562 340h1v1h-1zM1561 341h1v1h-1zM1561 342h5v1h-5zM1567 334h5v1h-5zM1567 335h1v1h-1zM1567 336h1v1h-1zM1567 337h4v1h-4zM1567 338h1v1h-1zM1571 338h1v1h-1zM1571 339h1v1h-1zM1571 340h1v1h-1zM1567 341h1v1h-1zM1571 341h1v1h-1zM1568 342h3v1h-3zM1573 342h1v1h-1zM1577 334h3v1h-3zM1576 335h1v1h-1zM1580 335h1v1h-1zM1576 336h1v1h-1zM1580 336h1v1h-1zM1576 337h1v1h-1zM1580 337h1v1h-1zM1576 338h1v1h-1zM1580 338h1v1h-1zM1576 339h1v1h-1zM1580 339h1v1h-1zM1576 340h1v1h-1zM1580 340h1v1h-1zM1576 341h1v1h-1zM1580 341h1v1h-1zM1577 342h3v1h-3zM1562 392h3v1h-3zM1561 393h1v1h-1zM1565 393h1v1h-1zM1565 394h1v1h-1zM1565 395h1v1h-1zM1564 396h1v1h-1zM1563 397h1v1h-1zM1562 398h1v1h-1zM1561 399h1v1h-1zM1561 400h5v1h-5zM1568 392h3v1h-3zM1567 393h1v1h-1zM1571 393h1v1h-1zM1567 394h1v1h-1zM1571 394h1v1h-1zM1567 395h1v1h-1zM1571 395h1v1h-1zM1567 396h1v1h-1zM1571 396h1v1h-1zM1567 397h1v1h-1zM1571 397h1v1h-1zM1567 398h1v1h-1zM1571 398h1v1h-1zM1567 399h1v1h-1zM1571 399h1v1h-1zM1568 400h3v1h-3zM1573 400h1v1h-1zM1577 392h3v1h-3zM1576 393h1v1h-1zM1580 393h1v1h-1zM1576 394h1v1h-1zM1580 394h1v1h-1zM1576 395h1v1h-1zM1580 395h1v1h-1zM1576 396h1v1h-1zM1580 396h1v1h-1zM1576 397h1v1h-1zM1580 397h1v1h-1zM1576 398h1v1h-1zM1580 398h1v1h-1zM1576 399h1v1h-1zM1580 399h1v1h-1zM1577 400h3v1h-3zM1563 450h1v1h-1zM1561 451h3v1h-3zM1563 452h1v1h-1zM1563 453h1v1h-1zM1563 454h1v1h-1zM1563 455h1v1h-1zM1563 456h1v1h-1zM1563 457h1v1h-1zM1563 458h1v1h-1zM1567 450h5v1h-5zM1567 451h1v1h-1zM1567 452h1v1h-1zM1567 453h4v1h-4zM1567 454h1v1h-1zM1571 454h1v1h-1zM1571 455h1v1h-1zM1571 456h1v1h-1zM1567 457h1v1h-1zM1571 457h1v1h-1zM1568 458h3v1h-3zM1573 458h1v1h-1zM1577 450h3v1h-3zM1576 451h1v1h-1zM1580 451h1v1h-1zM1576 452h1v1h-1zM1580 452h1v1h-1zM1576 453h1v1h-1zM1580 453h1v1h-1zM1576 454h1v1h-1zM1580 454h1v1h-1zM1576 455h1v1h-1zM1580 455h1v1h-1zM1576 456h1v1h-1zM1580 456h1v1h-1zM1576 457h1v1h-1zM1580 457h1v1h-1zM1577 458h3v1h-3zM1563 508h1v1h-1zM1561 509h3v1h-3zM1563 510h1v1h-1zM1563 511h1v1h-1zM1563 512h1v1h-1zM1563 513h1v1h-1zM1563 514h1v1h-1zM1563 515h1v1h-1zM1563 516h1v1h-1zM1568 508h3v1h-3zM1567 509h1v1h-1zM1571 509h1v1h-1zM1567 510h1v1h-1zM1571 510h1v1h-1zM1567 511h1v1h-1zM1571 511h1v1h-1zM1567 512h1v1h-1zM1571 512h1v1h-1zM1567 513h1v1h-1zM1571 513h1v1h-1zM1567 514h1v1h-1zM1571 514h1v1h-1zM1567 515h1v1h-1zM1571 515h1v1h-1zM1568 516h3v1h-3zM1573 516h1v1h-1zM1577 508h3v1h-3zM1576 509h1v1h-1zM1580 509h1v1h-1zM1576 510h1v1h-1zM1580 510h1v1h-1zM1576 511h1v1h-1zM1580 511h1v1h-1zM1576 512h1v1h-1zM1580 512h1v1h-1zM1576 513h1v1h-1zM1580 513h1v1h-1zM1576 514h1v1h-1zM1580 514h1v1h-1zM1576 515h1v1h-1zM1580 515h1v1h-1zM1577 516h3v1h-3zM1561 566h5v1h-5zM1561 567h1v1h-1zM1561 568h1v1h-1zM1561 569h4v1h-4zM1561 570h1v1h-1zM1565 570h1v1h-1zM1565 571h1v1h-1zM1565 572h1v1h-1zM1561 573h1v1h-1zM1565 573h1v1h-1zM1562 574h3v1h-3zM1567 574h1v1h-1zM1571 566h3v1h-3zM1570 567h1v1h-1zM1574 567h1v1h-1zM1570 568h1v1h-1zM1574 568h1v1h-1zM1570 569h1v1h-1zM1574 569h1v1h-1zM1570 570h1v1h-1zM1574 570h1v1h-1zM1570 571h1v1h-1zM1574 571h1v1h-1zM1570 572h1v1h-1zM1574 572h1v1h-1zM1570 573h1v1h-1zM1574 573h1v1h-1zM1571 574h3v1h-3zM1562 624h3v1h-3zM1561 625h1v1h-1zM1565 625h1v1h-1zM1561 626h1v1h-1zM1565 626h1v1h-1zM1561 627h1v1h-1zM1565 627h1v1h-1zM1561 628h1v1h-1zM1565 628h1v1h-1zM1561 629h1v1h-1zM1565 629h1v1h-1zM1561 630h1v1h-1zM1565 630h1v1h-1zM1561 631h1v1h-1zM1565 631h1v1h-1zM1562 632h3v1h-3zM1567 632h1v1h-1zM1571 624h3v1h-3zM1570 625h1v1h-1zM1574 625h1v1h-1zM1570 626h1v1h-1zM1574 626h1v1h-1zM1570 627h1v1h-1zM1574 627h1v1h-1zM1570 628h1v1h-1zM1574 628h1v1h-1zM1570 629h1v1h-1zM1574 629h1v1h-1zM1570 630h1v1h-1zM1574 630h1v1h-1zM1570 631h1v1h-1zM1574 631h1v1h-1zM1571 632h3v1h-3zM66 638h3v1h-3zM65 639h1v1h-1zM69 639h1v1h-1zM65 640h1v1h-1zM69 640h1v1h-1zM65 641h1v1h-1zM69 641h1v1h-1zM65 642h1v1h-1zM69 642h1v1h-1zM65 643h1v1h-1zM69 643h1v1h-1zM65 644h1v1h-1zM69 644h1v1h-1zM65 645h1v1h-1zM69 645h1v1h-1zM66 646h3v1h-3zM72 638h3v1h-3zM71 639h1v1h-1zM75 639h1v1h-1zM71 640h1v1h-1zM75 640h1v1h-1zM71 641h1v1h-1zM75 641h1v1h-1zM71 642h1v1h-1zM75 642h1v1h-1zM71 643h1v1h-1zM75 643h1v1h-1zM71 644h1v1h-1zM75 644h1v1h-1zM71 645h1v1h-1zM75 645h1v1h-1zM72 646h3v1h-3zM77 641h1v1h-1zM77 646h1v1h-1zM81 638h3v1h-3zM80 639h1v1h-1zM84 639h1v1h-1zM80 640h1v1h-1zM84 640h1v1h-1zM80 641h1v1h-1zM84 641h1v1h-1zM80 642h1v1h-1zM84 642h1v1h-1zM80 643h1v1h-1zM84 643h1v1h-1zM80 644h1v1h-1zM84 644h1v1h-1zM80 645h1v1h-1zM84 645h1v1h-1zM81 646h3v1h-3zM87 638h3v1h-3zM86 639h1v1h-1zM90 639h1v1h-1zM86 640h1v1h-1zM90 640h1v1h-1zM86 641h1v1h-1zM90 641h1v1h-1zM86 642h1v1h-1zM90 642h1v1h-1zM86 643h1v1h-1zM90 643h1v1h-1zM86 644h1v1h-1zM90 644h1v1h-1zM86 645h1v1h-1zM90 645h1v1h-1zM87 646h3v1h-3zM126 638h3v1h-3zM125 639h1v1h-1zM129 639h1v1h-1zM125 640h1v1h-1zM129 640h1v1h-1zM125 641h1v1h-1zM129 641h1v1h-1zM125 642h1v1h-1zM129 642h1v1h-1zM125 643h1v1h-1zM129 643h1v1h-1zM125 644h1v1h-1zM129 644h1v1h-1zM125 645h1v1h-1zM129 645h1v1h-1zM126 646h3v1h-3zM133 638h1v1h-1zM131 639h3v1h-3zM133 640h1v1h-1zM133 641h1v1h-1zM133 642h1v1h-1zM133 643h1v1h-1zM133 644h1v1h-1zM133 645h1v1h-1zM133 646h1v1h-1zM137 641h1v1h-1zM137 646h1v1h-1zM141 638h3v1h-3zM140 639h1v1h-1zM144 639h1v1h-1zM140 640h1v1h-1zM144 640h1v1h-1zM140 641h1v1h-1zM144 641h1v1h-1zM140 642h1v1h-1zM144 642h1v1h-1zM140 643h1v1h-1zM144 643h1v1h-1zM140 644h1v1h-1zM144 644h1v1h-1zM140 645h1v1h-1zM144 645h1v1h-1zM141 646h3v1h-3zM147 638h3v1h-3zM146 639h1v1h-1zM150 639h1v1h-1zM146 640h1v1h-1zM150 640h1v1h-1zM146 641h1v1h-1zM150 641h1v1h-1zM146 642h1v1h-1zM150 642h1v1h-1zM146 643h1v1h-1zM150 643h1v1h-1zM146 644h1v1h-1zM150 644h1v1h-1zM146 645h1v1h-1zM150 645h1v1h-1zM147 646h3v1h-3zM186 638h3v1h-3zM185 639h1v1h-1zM189 639h1v1h-1zM185 640h1v1h-1zM189 640h1v1h-1zM185 641h1v1h-1zM189 641h1v1h-1zM185 642h1v1h-1zM189 642h1v1h-1zM185 643h1v1h-1zM189 643h1v1h-1zM185 644h1v1h-1zM189 644h1v1h-1zM185 645h1v1h-1zM189 645h1v1h-1zM186 646h3v1h-3zM192 638h3v1h-3zM191 639h1v1h-1zM195 639h1v1h-1zM195 640h1v1h-1zM195 641h1v1h-1zM194 642h1v1h-1zM193 643h1v1h-1zM192 644h1v1h-1zM191 645h1v1h-1zM191 646h5v1h-5zM197 641h1v1h-1zM197 646h1v1h-1zM201 638h3v1h-3zM200 639h1v1h-1zM204 639h1v1h-1zM200 640h1v1h-1zM204 640h1v1h-1zM200 641h1v1h-1zM204 641h1v1h-1zM200 642h1v1h-1zM204 642h1v1h-1zM200 643h1v1h-1zM204 643h1v1h-1zM200 644h1v1h-1zM204 644h1v1h-1zM200 645h1v1h-1zM204 645h1v1h-1zM201 646h3v1h-3zM207 638h3v1h-3zM206 639h1v1h-1zM210 639h1v1h-1zM206 640h1v1h-1zM210 640h1v1h-1zM206 641h1v1h-1zM210 641h1v1h-1zM206 642h1v1h-1zM210 642h1v1h-1zM206 643h1v1h-1zM210 643h1v1h-1zM206 644h1v1h-1zM210 644h1v1h-1zM206 645h1v1h-1zM210 645h1v1h-1zM207 646h3v1h-3zM246 638h3v1h-3zM245 639h1v1h-1zM249 639h1v1h-1zM245 640h1v1h-1zM249 640h1v1h-1zM245 641h1v1h-1zM249 641h1v1h-1zM245 642h1v1h-1zM249 642h1v1h-1zM245 643h1v1h-1zM249 643h1v1h-1zM245 644h1v1h-1zM249 644h1v1h-1zM245 645h1v1h-1zM249 645h1v1h-1zM246 646h3v1h-3zM252 638h3v1h-3zM251 639h1v1h-1zM255 639h1v1h-1zM255 640h1v1h-1zM255 641h1v1h-1zM253 642h2v1h-2zM255 643h1v1h-1zM255 644h1v1h-1zM251 645h1v1h-1zM255 645h1v1h-1zM252 646h3v1h-3zM257 641h1v1h-1zM257 646h1v1h-1zM261 638h3v1h-3zM260 639h1v1h-1zM264 639h1v1h-1zM260 640h1v1h-1zM264 640h1v1h-1zM260 641h1v1h-1zM264 641h1v1h-1zM260 642h1v1h-1zM264 642h1v1h-1zM260 643h1v1h-1zM264 643h1v1h-1zM260 644h1v1h-1zM264 644h1v1h-1zM260 645h1v1h-1zM264 645h1v1h-1zM261 646h3v1h-3zM267 638h3v1h-3zM266 639h1v1h-1zM270 639h1v1h-1zM266 640h1v1h-1zM270 640h1v1h-1zM266 641h1v1h-1zM270 641h1v1h-1zM266 642h1v1h-1zM270 642h1v1h-1zM266 643h1v1h-1zM270 643h1v1h-1zM266 644h1v1h-1zM270 644h1v1h-1zM266 645h1v1h-1zM270 645h1v1h-1zM267 646h3v1h-3zM306 638h3v1h-3zM305 639h1v1h-1zM309 639h1v1h-1zM305 640h1v1h-1zM309 640h1v1h-1zM305 641h1v1h-1zM309 641h1v1h-1zM305 642h1v1h-1zM309 642h1v1h-1zM305 643h1v1h-1zM309 643h1v1h-1zM305 644h1v1h-1zM309 644h1v1h-1zM305 645h1v1h-1zM309 645h1v1h-1zM306 646h3v1h-3zM314 638h1v1h-1zM313 639h2v1h-2zM313 640h2v1h-2zM312 641h1v1h-1zM314 641h1v1h-1zM312 642h1v1h-1zM314 642h1v1h-1zM311 643h1v1h-1zM314 643h1v1h-1zM311 644h5v1h-5zM314 645h1v1h-1zM314 646h1v1h-1zM317 641h1v1h-1zM317 646h1v1h-1zM321 638h3v1h-3zM320 639h1v1h-1zM324 639h1v1h-1zM320 640h1v1h-1zM324 640h1v1h-1zM320 641h1v1h-1zM324 641h1v1h-1zM320 642h1v1h-1zM324 642h1v1h-1zM320 643h1v1h-1zM324 643h1v1h-1zM320 644h1v1h-1zM324 644h1v1h-1zM320 645h1v1h-1zM324 645h1v1h-1zM321 646h3v1h-3zM327 638h3v1h-3zM326 639h1v1h-1zM330 639h1v1h-1zM326 640h1v1h-1zM330 640h1v1h-1zM326 641h1v1h-1zM330 641h1v1h-1zM326 642h1v1h-1zM330 642h1v1h-1zM326 643h1v1h-1zM330 643h1v1h-1zM326 644h1v1h-1zM330 644h1v1h-1zM326 645h1v1h-1zM330 645h1v1h-1zM327 646h3v1h-3zM366 638h3v1h-3zM365 639h1v1h-1zM369 639h1v1h-1zM365 640h1v1h-1zM369 640h1v1h-1zM365 641h1v1h-1zM369 641h1v1h-1zM365 642h1v1h-1zM369 642h1v1h-1zM365 643h1v1h-1zM369 643h1v1h-1zM365 644h1v1h-1zM369 644h1v1h-1zM365 645h1v1h-1zM369 645h1v1h-1zM366 646h3v1h-3zM371 638h5v1h-5zM371 639h1v1h-1zM371 640h1v1h-1zM371 641h4v1h-4zM371 642h1v1h-1zM375 642h1v1h-1zM375 643h1v1h-1zM375 644h1v1h-1zM371 645h1v1h-1zM375 645h1v1h-1zM372 646h3v1h-3zM377 641h1v1h-1zM377 646h1v1h-1zM381 638h3v1h-3zM380 639h1v1h-1zM384 639h1v1h-1zM380 640h1v1h-1zM384 640h1v1h-1zM380 641h1v1h-1zM384 641h1v1h-1zM380 642h1v1h-1zM384 642h1v1h-1zM380 643h1v1h-1zM384 643h1v1h-1zM380 644h1v1h-1zM384 644h1v1h-1zM380 645h1v1h-1zM384 645h1v1h-1zM381 646h3v1h-3zM387 638h3v1h-3zM386 639h1v1h-1zM390 639h1v1h-1zM386 640h1v1h-1zM390 640h1v1h-1zM386 641h1v1h-1zM390 641h1v1h-1zM386 642h1v1h-1zM390 642h1v1h-1zM386 643h1v1h-1zM390 643h1v1h-1zM386 644h1v1h-1zM390 644h1v1h-1zM386 645h1v1h-1zM390 645h1v1h-1zM387 646h3v1h-3zM426 638h3v1h-3zM425 639h1v1h-1zM429 639h1v1h-1zM425 640h1v1h-1zM429 640h1v1h-1zM425 641h1v1h-1zM429 641h1v1h-1zM425 642h1v1h-1zM429 642h1v1h-1zM425 643h1v1h-1zM429 643h1v1h-1zM425 644h1v1h-1zM429 644h1v1h-1zM425 645h1v1h-1zM429 645h1v1h-1zM426 646h3v1h-3zM432 638h3v1h-3zM431 639h1v1h-1zM435 639h1v1h-1zM431 640h1v1h-1zM431 641h1v1h-1zM431 642h4v1h-4zM431 643h1v1h-1zM435 643h1v1h-1zM431 644h1v1h-1zM435 644h1v1h-1zM431 645h1v1h-1zM435 645h1v1h-1zM432 646h3v1h-3zM437 641h1v1h-1zM437 646h1v1h-1zM441 638h3v1h-3zM440 639h1v1h-1zM444 639h1v1h-1zM440 640h1v1h-1zM444 640h1v1h-1zM440 641h1v1h-1zM444 641h1v1h-1zM440 642h1v1h-1zM444 642h1v1h-1zM440 643h1v1h-1zM444 643h1v1h-1zM440 644h1v1h-1zM444 644h1v1h-1zM440 645h1v1h-1zM444 645h1v1h-1zM441 646h3v1h-3zM447 638h3v1h-3zM446 639h1v1h-1zM450 639h1v1h-1zM446 640h1v1h-1zM450 640h1v1h-1zM446 641h1v1h-1zM450 641h1v1h-1zM446 642h1v1h-1zM450 642h1v1h-1zM446 643h1v1h-1zM450 643h1v1h-1zM446 644h1v1h-1zM450 644h1v1h-1zM446 645h1v1h-1zM450 645h1v1h-1zM447 646h3v1h-3zM486 638h3v1h-3zM485 639h1v1h-1zM489 639h1v1h-1zM485 640h1v1h-1zM489 640h1v1h-1zM485 641h1v1h-1zM489 641h1v1h-1zM485 642h1v1h-1zM489 642h1v1h-1zM485 643h1v1h-1zM489 643h1v1h-1zM485 644h1v1h-1zM489 644h1v1h-1zM485 645h1v1h-1zM489 645h1v1h-1zM486 646h3v1h-3zM491 638h5v1h-5zM495 639h1v1h-1zM494 640h1v1h-1zM494 641h1v1h-1zM493 642h1v1h-1zM493 643h1v1h-1zM492 644h1v1h-1zM492 645h1v1h-1zM492 646h1v1h-1zM497 641h1v1h-1zM497 646h1v1h-1zM501 638h3v1h-3zM500 639h1v1h-1zM504 639h1v1h-1zM500 640h1v1h-1zM504 640h1v1h-1zM500 641h1v1h-1zM504 641h1v1h-1zM500 642h1v1h-1zM504 642h1v1h-1zM500 643h1v1h-1zM504 643h1v1h-1zM500 644h1v1h-1zM504 644h1v1h-1zM500 645h1v1h-1zM504 645h1v1h-1zM501 646h3v1h-3zM507 638h3v1h-3zM506 639h1v1h-1zM510 639h1v1h-1zM506 640h1v1h-1zM510 640h1v1h-1zM506 641h1v1h-1zM510 641h1v1h-1zM506 642h1v1h-1zM510 642h1v1h-1zM506 643h1v1h-1zM510 643h1v1h-1zM506 644h1v1h-1zM510 644h1v1h-1zM506 645h1v1h-1zM510 645h1v1h-1zM507 646h3v1h-3zM546 638h3v1h-3zM545 639h1v1h-1zM549 639h1v1h-1zM545 640h1v1h-1zM549 640h1v1h-1zM545 641h1v1h-1zM549 641h1v1h-1zM545 642h1v1h-1zM549 642h1v1h-1zM545 643h1v1h-1zM549 643h1v1h-1zM545 644h1v1h-1zM549 644h1v1h-1zM545 645h1v1h-1zM549 645h1v1h-1zM546 646h3v1h-3zM552 638h3v1h-3zM551 639h1v1h-1zM555 639h1v1h-1zM551 640h1v1h-1zM555 640h1v1h-1zM551 641h1v1h-1zM555 641h1v1h-1zM552 642h3v1h-3zM551 643h1v1h-1zM555 643h1v1h-1zM551 644h1v1h-1zM555 644h1v1h-1zM551 645h1v1h-1zM555 645h1v1h-1zM552 646h3v1h-3zM557 641h1v1h-1zM557 646h1v1h-1zM561 638h3v1h-3zM560 639h1v1h-1zM564 639h1v1h-1zM560 640h1v1h-1zM564 640h1v1h-1zM560 641h1v1h-1zM564 641h1v1h-1zM560 642h1v1h-1zM564 642h1v1h-1zM560 643h1v1h-1zM564 643h1v1h-1zM560 644h1v1h-1zM564 644h1v1h-1zM560 645h1v1h-1zM564 645h1v1h-1zM561 646h3v1h-3zM567 638h3v1h-3zM566 639h1v1h-1zM570 639h1v1h-1zM566 640h1v1h-1zM570 640h1v1h-1zM566 641h1v1h-1zM570 641h1v1h-1zM566 642h1v1h-1zM570 642h1v1h-1zM566 643h1v1h-1zM570 643h1v1h-1zM566 644h1v1h-1zM570 644h1v1h-1zM566 645h1v1h-1zM570 645h1v1h-1zM567 646h3v1h-3zM606 638h3v1h-3zM605 639h1v1h-1zM609 639h1v1h-1zM605 640h1v1h-1zM609 640h1v1h-1zM605 641h1v1h-1zM609 641h1v1h-1zM605 642h1v1h-1zM609 642h1v1h-1zM605 643h1v1h-1zM609 643h1v1h-1zM605 644h1v1h-1zM609 644h1v1h-1zM605 645h1v1h-1zM609 645h1v1h-1zM606 646h3v1h-3zM612 638h3v1h-3zM611 639h1v1h-1zM615 639h1v1h-1zM611 640h1v1h-1zM615 640h1v1h-1zM611 641h1v1h-1zM615 641h1v1h-1zM612 642h4v1h-4zM615 643h1v1h-1zM615 644h1v1h-1zM611 645h1v1h-1zM615 645h1v1h-1zM612 646h3v1h-3zM617 641h1v1h-1zM617 646h1v1h-1zM621 638h3v1h-3zM620 639h1v1h-1zM624 639h1v1h-1zM620 640h1v1h-1zM624 640h1v1h-1zM620 641h1v1h-1zM624 641h1v1h-1zM620 642h1v1h-1zM624 642h1v1h-1zM620 643h1v1h-1zM624 643h1v1h-1zM620 644h1v1h-1zM624 644h1v1h-1zM620 645h1v1h-1zM624 645h1v1h-1zM621 646h3v1h-3zM627 638h3v1h-3zM626 639h1v1h-1zM630 639h1v1h-1zM626 640h1v1h-1zM630 640h1v1h-1zM626 641h1v1h-1zM630 641h1v1h-1zM626 642h1v1h-1zM630 642h1v1h-1zM626 643h1v1h-1zM630 643h1v1h-1zM626 644h1v1h-1zM630 644h1v1h-1zM626 645h1v1h-1zM630 645h1v1h-1zM627 646h3v1h-3zM667 638h1v1h-1zM665 639h3v1h-3zM667 640h1v1h-1zM667 641h1v1h-1zM667 642h1v1h-1zM667 643h1v1h-1zM667 644h1v1h-1zM667 645h1v1h-1zM667 646h1v1h-1zM672 638h3v1h-3zM671 639h1v1h-1zM675 639h1v1h-1zM671 640h1v1h-1zM675 640h1v1h-1zM671 641h1v1h-1zM675 641h1v1h-1zM671 642h1v1h-1zM675 642h1v1h-1zM671 643h1v1h-1zM675 643h1v1h-1zM671 644h1v1h-1zM675 644h1v1h-1zM671 645h1v1h-1zM675 645h1v1h-1zM672 646h3v1h-3zM677 641h1v1h-1zM677 646h1v1h-1zM681 638h3v1h-3zM680 639h1v1h-1zM684 639h1v1h-1zM680 640h1v1h-1zM684 640h1v1h-1zM680 641h1v1h-1zM684 641h1v1h-1zM680 642h1v1h-1zM684 642h1v1h-1zM680 643h1v1h-1zM684 643h1v1h-1zM680 644h1v1h-1zM684 644h1v1h-1zM680 645h1v1h-1zM684 645h1v1h-1zM681 646h3v1h-3zM687 638h3v1h-3zM686 639h1v1h-1zM690 639h1v1h-1zM686 640h1v1h-1zM690 640h1v1h-1zM686 641h1v1h-1zM690 641h1v1h-1zM686 642h1v1h-1zM690 642h1v1h-1zM686 643h1v1h-1zM690 643h1v1h-1zM686 644h1v1h-1zM690 644h1v1h-1zM686 645h1v1h-1zM690 645h1v1h-1zM687 646h3v1h-3zM727 638h1v1h-1zM725 639h3v1h-3zM727 640h1v1h-1zM727 641h1v1h-1zM727 642h1v1h-1zM727 643h1v1h-1zM727 644h1v1h-1zM727 645h1v1h-1zM727 646h1v1h-1zM733 638h1v1h-1zM731 639h3v1h-3zM733 640h1v1h-1zM733 641h1v1h-1zM733 642h1v1h-1zM733 643h1v1h-1zM733 644h1v1h-1zM733 645h1v1h-1zM733 646h1v1h-1zM737 641h1v1h-1zM737 646h1v1h-1zM741 638h3v1h-3zM740 639h1v1h-1zM744 639h1v1h-1zM740 640h1v1h-1zM744 640h1v1h-1zM740 641h1v1h-1zM744 641h1v1h-1zM740 642h1v1h-1zM744 642h1v1h-1zM740 643h1v1h-1zM744 643h1v1h-1zM740 644h1v1h-1zM744 644h1v1h-1zM740 645h1v1h-1zM744 645h1v1h-1zM741 646h3v1h-3zM747 638h3v1h-3zM746 639h1v1h-1zM750 639h1v1h-1zM746 640h1v1h-1zM750 640h1v1h-1zM746 641h1v1h-1zM750 641h1v1h-1zM746 642h1v1h-1zM750 642h1v1h-1zM746 643h1v1h-1zM750 643h1v1h-1zM746 644h1v1h-1zM750 644h1v1h-1zM746 645h1v1h-1zM750 645h1v1h-1zM747 646h3v1h-3zM787 638h1v1h-1zM785 639h3v1h-3zM787 640h1v1h-1zM787 641h1v1h-1zM787 642h1v1h-1zM787 643h1v1h-1zM787 644h1v1h-1zM787 645h1v1h-1zM787 646h1v1h-1zM792 638h3v1h-3zM791 639h1v1h-1zM795 639h1v1h-1zM795 640h1v1h-1zM795 641h1v1h-1zM794 642h1v1h-1zM793 643h1v1h-1zM792 644h1v1h-1zM791 645h1v1h-1zM791 646h5v1h-5zM797 641h1v1h-1zM797 646h1v1h-1zM801 638h3v1h-3zM800 639h1v1h-1zM804 639h1v1h-1zM800 640h1v1h-1zM804 640h1v1h-1zM800 641h1v1h-1zM804 641h1v1h-1zM800 642h1v1h-1zM804 642h1v1h-1zM800 643h1v1h-1zM804 643h1v1h-1zM800 644h1v1h-1zM804 644h1v1h-1zM800 645h1v1h-1zM804 645h1v1h-1zM801 646h3v1h-3zM807 638h3v1h-3zM806 639h1v1h-1zM810 639h1v1h-1zM806 640h1v1h-1zM810 640h1v1h-1zM806 641h1v1h-1zM810 641h1v1h-1zM806 642h1v1h-1zM810 642h1v1h-1zM806 643h1v1h-1zM810 643h1v1h-1zM806 644h1v1h-1zM810 644h1v1h-1zM806 645h1v1h-1zM810 645h1v1h-1zM807 646h3v1h-3zM847 638h1v1h-1zM845 639h3v1h-3zM847 640h1v1h-1zM847 641h1v1h-1zM847 642h1v1h-1zM847 643h1v1h-1zM847 644h1v1h-1zM847 645h1v1h-1zM847 646h1v1h-1zM852 638h3v1h-3zM851 639h1v1h-1zM855 639h1v1h-1zM855 640h1v1h-1zM855 641h1v1h-1zM853 642h2v1h-2zM855 643h1v1h-1zM855 644h1v1h-1zM851 645h1v1h-1zM855 645h1v1h-1zM852 646h3v1h-3zM857 641h1v1h-1zM857 646h1v1h-1zM861 638h3v1h-3zM860 639h1v1h-1zM864 639h1v1h-1zM860 640h1v1h-1zM864 640h1v1h-1zM860 641h1v1h-1zM864 641h1v1h-1zM860 642h1v1h-1zM864 642h1v1h-1zM860 643h1v1h-1zM864 643h1v1h-1zM860 644h1v1h-1zM864 644h1v1h-1zM860 645h1v1h-1zM864 645h1v1h-1zM861 646h3v1h-3zM867 638h3v1h-3zM866 639h1v1h-1zM870 639h1v1h-1zM866 640h1v1h-1zM870 640h1v1h-1zM866 641h1v1h-1zM870 641h1v1h-1zM866 642h1v1h-1zM870 642h1v1h-1zM866 643h1v1h-1zM870 643h1v1h-1zM866 644h1v1h-1zM870 644h1v1h-1zM866 645h1v1h-1zM870 645h1v1h-1zM867 646h3v1h-3zM907 638h1v1h-1zM905 639h3v1h-3zM907 640h1v1h-1zM907 641h1v1h-1zM907 642h1v1h-1zM907 643h1v1h-1zM907 644h1v1h-1zM907 645h1v1h-1zM907 646h1v1h-1zM914 638h1v1h-1zM913 639h2v1h-2zM913 640h2v1h-2zM912 641h1v1h-1zM914 641h1v1h-1zM912 642h1v1h-1zM914 642h1v1h-1zM911 643h1v1h-1zM914 643h1v1h-1zM911 644h5v1h-5zM914 645h1v1h-1zM914 646h1v1h-1zM917 641h1v1h-1zM917 646h1v1h-1zM921 638h3v1h-3zM920 639h1v1h-1zM924 639h1v1h-1zM920 640h1v1h-1zM924 640h1v1h-1zM920 641h1v1h-1zM924 641h1v1h-1zM920 642h1v1h-1zM924 642h1v1h-1zM920 643h1v1h-1zM924 643h1v1h-1zM920 644h1v1h-1zM924 644h1v1h-1zM920 645h1v1h-1zM924 645h1v1h-1zM921 646h3v1h-3zM927 638h3v1h-3zM926 639h1v1h-1zM930 639h1v1h-1zM926 640h1v1h-1zM930 640h1v1h-1zM926 641h1v1h-1zM930 641h1v1h-1zM926 642h1v1h-1zM930 642h1v1h-1zM926 643h1v1h-1zM930 643h1v1h-1zM926 644h1v1h-1zM930 644h1v1h-1zM926 645h1v1h-1zM930 645h1v1h-1zM927 646h3v1h-3zM967 638h1v1h-1zM965 639h3v1h-3zM967 640h1v1h-1zM967 641h1v1h-1zM967 642h1v1h-1zM967 643h1v1h-1zM967 644h1v1h-1zM967 645h1v1h-1zM967 646h1v1h-1zM971 638h5v1h-5zM971 639h1v1h-1zM971 640h1v1h-1zM971 641h4v1h-4zM971 642h1v1h-1zM975 642h1v1h-1zM975 643h1v1h-1zM975 644h1v1h-1zM971 645h1v1h-1zM975 645h1v1h-1zM972 646h3v1h-3zM977 641h1v1h-1zM977 646h1v1h-1zM981 638h3v1h-3zM980 639h1v1h-1zM984 639h1v1h-1zM980 640h1v1h-1zM984 640h1v1h-1zM980 641h1v1h-1zM984 641h1v1h-1zM980 642h1v1h-1zM984 642h1v1h-1zM980 643h1v1h-1zM984 643h1v1h-1zM980 644h1v1h-1zM984 644h1v1h-1zM980 645h1v1h-1zM984 645h1v1h-1zM981 646h3v1h-3zM987 638h3v1h-3zM986 639h1v1h-1zM990 639h1v1h-1zM986 640h1v1h-1zM990 640h1v1h-1zM986 641h1v1h-1zM990 641h1v1h-1zM986 642h1v1h-1zM990 642h1v1h-1zM986 643h1v1h-1zM990 643h1v1h-1zM986 644h1v1h-1zM990 644h1v1h-1zM986 645h1v1h-1zM990 645h1v1h-1zM987 646h3v1h-3zM1027 638h1v1h-1zM1025 639h3v1h-3zM1027 640h1v1h-1zM1027 641h1v1h-1zM1027 642h1v1h-1zM1027 643h1v1h-1zM1027 644h1v1h-1zM1027 645h1v1h-1zM1027 646h1v1h-1zM1032 638h3v1h-3zM1031 639h1v1h-1zM1035 639h1v1h-1zM1031 640h1v1h-1zM1031 641h1v1h-1zM1031 642h4v1h-4zM1031 643h1v1h-1zM1035 643h1v1h-1zM1031 644h1v1h-1zM1035 644h1v1h-1zM1031 645h1v1h-1zM1035 645h1v1h-1zM1032 646h3v1h-3zM1037 641h1v1h-1zM1037 646h1v1h-1zM1041 638h3v1h-3zM1040 639h1v1h-1zM1044 639h1v1h-1zM1040 640h1v1h-1zM1044 640h1v1h-1zM1040 641h1v1h-1zM1044 641h1v1h-1zM1040 642h1v1h-1zM1044 642h1v1h-1zM1040 643h1v1h-1zM1044 643h1v1h-1zM1040 644h1v1h-1zM1044 644h1v1h-1zM1040 645h1v1h-1zM1044 645h1v1h-1zM1041 646h3v1h-3zM1047 638h3v1h-3zM1046 639h1v1h-1zM1050 639h1v1h-1zM1046 640h1v1h-1zM1050 640h1v1h-1zM1046 641h1v1h-1zM1050 641h1v1h-1zM1046 642h1v1h-1zM1050 642h1v1h-1zM1046 643h1v1h-1zM1050 643h1v1h-1zM1046 644h1v1h-1zM1050 644h1v1h-1zM1046 645h1v1h-1zM1050 645h1v1h-1zM1047 646h3v1h-3zM1087 638h1v1h-1zM1085 639h3v1h-3zM1087 640h1v1h-1zM1087 641h1v1h-1zM1087 642h1v1h-1zM1087 643h1v1h-1zM1087 644h1v1h-1zM1087 645h1v1h-1zM1087 646h1v1h-1zM1091 638h5v1h-5zM1095 639h1v1h-1zM1094 640h1v1h-1zM1094 641h1v1h-1zM1093 642h1v1h-1zM1093 643h1v1h-1zM1092 644h1v1h-1zM1092 645h1v1h-1zM1092 646h1v1h-1zM1097 641h1v1h-1zM1097 646h1v1h-1zM1101 638h3v1h-3zM1100 639h1v1h-1zM1104 639h1v1h-1zM1100 640h1v1h-1zM1104 640h1v1h-1zM1100 641h1v1h-1zM1104 641h1v1h-1zM1100 642h1v1h-1zM1104 642h1v1h-1zM1100 643h1v1h-1zM1104 643h1v1h-1zM1100 644h1v1h-1zM1104 644h1v1h-1zM1100 645h1v1h-1zM1104 645h1v1h-1zM1101 646h3v1h-3zM1107 638h3v1h-3zM1106 639h1v1h-1zM1110 639h1v1h-1zM1106 640h1v1h-1zM1110 640h1v1h-1zM1106 641h1v1h-1zM1110 641h1v1h-1zM1106 642h1v1h-1zM1110 642h1v1h-1zM1106 643h1v1h-1zM1110 643h1v1h-1zM1106 644h1v1h-1zM1110 644h1v1h-1zM1106 645h1v1h-1zM1110 645h1v1h-1zM1107 646h3v1h-3zM1147 638h1v1h-1zM1145 639h3v1h-3zM1147 640h1v1h-1zM1147 641h1v1h-1zM1147 642h1v1h-1zM1147 643h1v1h-1zM1147 644h1v1h-1zM1147 645h1v1h-1zM1147 646h1v1h-1zM1152 638h3v1h-3zM1151 639h1v1h-1zM1155 639h1v1h-1zM1151 640h1v1h-1zM1155 640h1v1h-1zM1151 641h1v1h-1zM1155 641h1v1h-1zM1152 642h3v1h-3zM1151 643h1v1h-1zM1155 643h1v1h-1zM1151 644h1v1h-1zM1155 644h1v1h-1zM1151 645h1v1h-1zM1155 645h1v1h-1zM1152 646h3v1h-3zM1157 641h1v1h-1zM1157 646h1v1h-1zM1161 638h3v1h-3zM1160 639h1v1h-1zM1164 639h1v1h-1zM1160 640h1v1h-1zM1164 640h1v1h-1zM1160 641h1v1h-1zM1164 641h1v1h-1zM1160 642h1v1h-1zM1164 642h1v1h-1zM1160 643h1v1h-1zM1164 643h1v1h-1zM1160 644h1v1h-1zM1164 644h1v1h-1zM1160 645h1v1h-1zM1164 645h1v1h-1zM1161 646h3v1h-3zM1167 638h3v1h-3zM1166 639h1v1h-1zM1170 639h1v1h-1zM1166 640h1v1h-1zM1170 640h1v1h-1zM1166 641h1v1h-1zM1170 641h1v1h-1zM1166 642h1v1h-1zM1170 642h1v1h-1zM1166 643h1v1h-1zM1170 643h1v1h-1zM1166 644h1v1h-1zM1170 644h1v1h-1zM1166 645h1v1h-1zM1170 645h1v1h-1zM1167 646h3v1h-3zM1207 638h1v1h-1zM1205 639h3v1h-3zM1207 640h1v1h-1zM1207 641h1v1h-1zM1207 642h1v1h-1zM1207 643h1v1h-1zM1207 644h1v1h-1zM1207 645h1v1h-1zM1207 646h1v1h-1zM1212 638h3v1h-3zM1211 639h1v1h-1zM1215 639h1v1h-1zM1211 640h1v1h-1zM1215 640h1v1h-1zM1211 641h1v1h-1zM1215 641h1v1h-1zM1212 642h4v1h-4zM1215 643h1v1h-1zM1215 644h1v1h-1zM1211 645h1v1h-1zM1215 645h1v1h-1zM1212 646h3v1h-3zM1217 641h1v1h-1zM1217 646h1v1h-1zM1221 638h3v1h-3zM1220 639h1v1h-1zM1224 639h1v1h-1zM1220 640h1v1h-1zM1224 640h1v1h-1zM1220 641h1v1h-1zM1224 641h1v1h-1zM1220 642h1v1h-1zM1224 642h1v1h-1zM1220 643h1v1h-1zM1224 643h1v1h-1zM1220 644h1v1h-1zM1224 644h1v1h-1zM1220 645h1v1h-1zM1224 645h1v1h-1zM1221 646h3v1h-3zM1227 638h3v1h-3zM1226 639h1v1h-1zM1230 639h1v1h-1zM1226 640h1v1h-1zM1230 640h1v1h-1zM1226 641h1v1h-1zM1230 641h1v1h-1zM1226 642h1v1h-1zM1230 642h1v1h-1zM1226 643h1v1h-1zM1230 643h1v1h-1zM1226 644h1v1h-1zM1230 644h1v1h-1zM1226 645h1v1h-1zM1230 645h1v1h-1zM1227 646h3v1h-3zM1266 638h3v1h-3zM1265 639h1v1h-1zM1269 639h1v1h-1zM1269 640h1v1h-1zM1269 641h1v1h-1zM1268 642h1v1h-1zM1267 643h1v1h-1zM1266 644h1v1h-1zM1265 645h1v1h-1zM1265 646h5v1h-5zM1272 638h3v1h-3zM1271 639h1v1h-1zM1275 639h1v1h-1zM1271 640h1v1h-1zM1275 640h1v1h-1zM1271 641h1v1h-1zM1275 641h1v1h-1zM1271 642h1v1h-1zM1275 642h1v1h-1zM1271 643h1v1h-1zM1275 643h1v1h-1zM1271 644h1v1h-1zM1275 644h1v1h-1zM1271 645h1v1h-1zM1275 645h1v1h-1zM1272 646h3v1h-3zM1277 641h1v1h-1zM1277 646h1v1h-1zM1281 638h3v1h-3zM1280 639h1v1h-1zM1284 639h1v1h-1zM1280 640h1v1h-1zM1284 640h1v1h-1zM1280 641h1v1h-1zM1284 641h1v1h-1zM1280 642h1v1h-1zM1284 642h1v1h-1zM1280 643h1v1h-1zM1284 643h1v1h-1zM1280 644h1v1h-1zM1284 644h1v1h-1zM1280 645h1v1h-1zM1284 645h1v1h-1zM1281 646h3v1h-3zM1287 638h3v1h-3zM1286 639h1v1h-1zM1290 639h1v1h-1zM1286 640h1v1h-1zM1290 640h1v1h-1zM1286 641h1v1h-1zM1290 641h1v1h-1zM1286 642h1v1h-1zM1290 642h1v1h-1zM1286 643h1v1h-1zM1290 643h1v1h-1zM1286 644h1v1h-1zM1290 644h1v1h-1zM1286 645h1v1h-1zM1290 645h1v1h-1zM1287 646h3v1h-3zM1326 638h3v1h-3zM1325 639h1v1h-1zM1329 639h1v1h-1zM1329 640h1v1h-1zM1329 641h1v1h-1zM1328 642h1v1h-1zM1327 643h1v1h-1zM1326 644h1v1h-1zM1325 645h1v1h-1zM1325 646h5v1h-5zM1333 638h1v1h-1zM1331 639h3v1h-3zM1333 640h1v1h-1zM1333 641h1v1h-1zM1333 642h1v1h-1zM1333 643h1v1h-1zM1333 644h1v1h-1zM1333 645h1v1h-1zM1333 646h1v1h-1zM1337 641h1v1h-1zM1337 646h1v1h-1zM1341 638h3v1h-3zM1340 639h1v1h-1zM1344 639h1v1h-1zM1340 640h1v1h-1zM1344 640h1v1h-1zM1340 641h1v1h-1zM1344 641h1v1h-1zM1340 642h1v1h-1zM1344 642h1v1h-1zM1340 643h1v1h-1zM1344 643h1v1h-1zM1340 644h1v1h-1zM1344 644h1v1h-1zM1340 645h1v1h-1zM1344 645h1v1h-1zM1341 646h3v1h-3zM1347 638h3v1h-3zM1346 639h1v1h-1zM1350 639h1v1h-1zM1346 640h1v1h-1zM1350 640h1v1h-1zM1346 641h1v1h-1zM1350 641h1v1h-1zM1346 642h1v1h-1zM1350 642h1v1h-1zM1346 643h1v1h-1zM1350 643h1v1h-1zM1346 644h1v1h-1zM1350 644h1v1h-1zM1346 645h1v1h-1zM1350 645h1v1h-1zM1347 646h3v1h-3zM1386 638h3v1h-3zM1385 639h1v1h-1zM1389 639h1v1h-1zM1389 640h1v1h-1zM1389 641h1v1h-1zM1388 642h1v1h-1zM1387 643h1v1h-1zM1386 644h1v1h-1zM1385 645h1v1h-1zM1385 646h5v1h-5zM1392 638h3v1h-3zM1391 639h1v1h-1zM1395 639h1v1h-1zM1395 640h1v1h-1zM1395 641h1v1h-1zM1394 642h1v1h-1zM1393 643h1v1h-1zM1392 644h1v1h-1zM1391 645h1v1h-1zM1391 646h5v1h-5zM1397 641h1v1h-1zM1397 646h1v1h-1zM1401 638h3v1h-3zM1400 639h1v1h-1zM1404 639h1v1h-1zM1400 640h1v1h-1zM1404 640h1v1h-1zM1400 641h1v1h-1zM1404 641h1v1h-1zM1400 642h1v1h-1zM1404 642h1v1h-1zM1400 643h1v1h-1zM1404 643h1v1h-1zM1400 644h1v1h-1zM1404 644h1v1h-1zM1400 645h1v1h-1zM1404 645h1v1h-1zM1401 646h3v1h-3zM1407 638h3v1h-3zM1406 639h1v1h-1zM1410 639h1v1h-1zM1406 640h1v1h-1zM1410 640h1v1h-1zM1406 641h1v1h-1zM1410 641h1v1h-1zM1406 642h1v1h-1zM1410 642h1v1h-1zM1406 643h1v1h-1zM1410 643h1v1h-1zM1406 644h1v1h-1zM1410 644h1v1h-1zM1406 645h1v1h-1zM1410 645h1v1h-1zM1407 646h3v1h-3zM1446 638h3v1h-3zM1445 639h1v1h-1zM1449 639h1v1h-1zM1449 640h1v1h-1zM1449 641h1v1h-1zM1448 642h1v1h-1zM1447 643h1v1h-1zM1446 644h1v1h-1zM1445 645h1v1h-1zM1445 646h5v1h-5zM1452 638h3v1h-3zM1451 639h1v1h-1zM1455 639h1v1h-1zM1455 640h1v1h-1zM1455 641h1v1h-1zM1453 642h2v1h-2zM1455 643h1v1h-1zM1455 644h1v1h-1zM1451 645h1v1h-1zM1455 645h1v1h-1zM1452 646h3v1h-3zM1457 641h1v1h-1zM1457 646h1v1h-1zM1461 638h3v1h-3zM1460 639h1v1h-1zM1464 639h1v1h-1zM1460 640h1v1h-1zM1464 640h1v1h-1zM1460 641h1v1h-1zM1464 641h1v1h-1zM1460 642h1v1h-1zM1464 642h1v1h-1zM1460 643h1v1h-1zM1464 643h1v1h-1zM1460 644h1v1h-1zM1464 644h1v1h-1zM1460 645h1v1h-1zM1464 645h1v1h-1zM1461 646h3v1h-3zM1467 638h3v1h-3zM1466 639h1v1h-1zM1470 639h1v1h-1zM1466 640h1v1h-1zM1470 640h1v1h-1zM1466 641h1v1h-1zM1470 641h1v1h-1zM1466 642h1v1h-1zM1470 642h1v1h-1zM1466 643h1v1h-1zM1470 643h1v1h-1zM1466 644h1v1h-1zM1470 644h1v1h-1zM1466 645h1v1h-1zM1470 645h1v1h-1zM1467 646h3v1h-3zM1506 638h3v1h-3zM1505 639h1v1h-1zM1509 639h1v1h-1zM1509 640h1v1h-1zM1509 641h1v1h-1zM1508 642h1v1h-1zM1507 643h1v1h-1zM1506 644h1v1h-1zM1505 645h1v1h-1zM1505 646h5v1h-5zM1514 638h1v1h-1zM1513 639h2v1h-2zM1513 640h2v1h-2zM1512 641h1v1h-1zM1514 641h1v1h-1zM1512 642h1v1h-1zM1514 642h1v1h-1zM1511 643h1v1h-1zM1514 643h1v1h-1zM1511 644h5v1h-5zM1514 645h1v1h-1zM1514 646h1v1h-1zM1517 641h1v1h-1zM1517 646h1v1h-1zM1521 638h3v1h-3zM1520 639h1v1h-1zM1524 639h1v1h-1zM1520 640h1v1h-1zM1524 640h1v1h-1zM1520 641h1v1h-1zM1524 641h1v1h-1zM1520 642h1v1h-1zM1524 642h1v1h-1zM1520 643h1v1h-1zM1524 643h1v1h-1zM1520 644h1v1h-1zM1524 644h1v1h-1zM1520 645h1v1h-1zM1524 645h1v1h-1zM1521 646h3v1h-3zM1527 638h3v1h-3zM1526 639h1v1h-1zM1530 639h1v1h-1zM1526 640h1v1h-1zM1530 640h1v1h-1zM1526 641h1v1h-1zM1530 641h1v1h-1zM1526 642h1v1h-1zM1530 642h1v1h-1zM1526 643h1v1h-1zM1530 643h1v1h-1zM1526 644h1v1h-1zM1530 644h1v1h-1zM1526 645h1v1h-1zM1530 645h1v1h-1zM1527 646h3v1h-3zM337 649h3v1h-3zM336 650h1v1h-1zM340 650h1v1h-1zM336 651h1v1h-1zM340 651h1v1h-1zM336 652h1v1h-1zM340 652h1v1h-1zM336 653h1v1h-1zM340 653h1v1h-1zM336 654h1v1h-1zM340 654h1v1h-1zM336 655h1v1h-1zM340 655h1v1h-1zM336 656h1v1h-1zM340 656h1v1h-1zM337 657h3v1h-3zM345 649h1v1h-1zM344 650h2v1h-2zM344 651h2v1h-2zM343 652h1v1h-1zM345 652h1v1h-1zM343 653h1v1h-1zM345 653h1v1h-1zM342 654h1v1h-1zM345 654h1v1h-1zM342 655h5v1h-5zM345 656h1v1h-1zM345 657h1v1h-1zM348 652h1v1h-1zM348 657h1v1h-1zM353 649h1v1h-1zM351 650h3v1h-3zM353 651h1v1h-1zM353 652h1v1h-1zM353 653h1v1h-1zM353 654h1v1h-1zM353 655h1v1h-1zM353 656h1v1h-1zM353 657h1v1h-1zM359 649h1v1h-1zM357 650h3v1h-3zM359 651h1v1h-1zM359 652h1v1h-1zM359 653h1v1h-1zM359 654h1v1h-1zM359 655h1v1h-1zM359 656h1v1h-1zM359 657h1v1h-1zM1013 649h1v1h-1zM1011 650h3v1h-3zM1013 651h1v1h-1zM1013 652h1v1h-1zM1013 653h1v1h-1zM1013 654h1v1h-1zM1013 655h1v1h-1zM1013 656h1v1h-1zM1013 657h1v1h-1zM1017 649h5v1h-5zM1017 650h1v1h-1zM1017 651h1v1h-1zM1017 652h4v1h-4zM1017 653h1v1h-1zM1021 653h1v1h-1zM1021 654h1v1h-1zM1021 655h1v1h-1zM1017 656h1v1h-1zM1021 656h1v1h-1zM1018 657h3v1h-3zM1023 652h1v1h-1zM1023 657h1v1h-1zM1027 649h3v1h-3zM1026 650h1v1h-1zM1030 650h1v1h-1zM1030 651h1v1h-1zM1030 652h1v1h-1zM1029 653h1v1h-1zM1028 654h1v1h-1zM1027 655h1v1h-1zM1026 656h1v1h-1zM1026 657h5v1h-5zM1033 649h3v1h-3zM1032 650h1v1h-1zM1036 650h1v1h-1zM1032 651h1v1h-1zM1032 652h1v1h-1zM1032 653h4v1h-4zM1032 654h1v1h-1zM1036 654h1v1h-1zM1032 655h1v1h-1zM1036 655h1v1h-1zM1032 656h1v1h-1zM1036 656h1v1h-1zM1033 657h3v1h-3z" fill="#ffffff" shape-rendering="crispEdges"/>
</svg>
</body></html>
